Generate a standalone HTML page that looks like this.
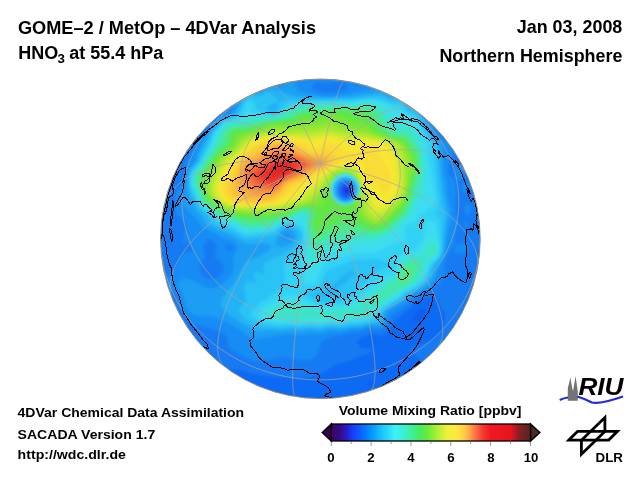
<!DOCTYPE html>
<html><head><meta charset="utf-8"><style>
html,body{margin:0;padding:0;background:#fff;width:640px;height:480px;overflow:hidden}
svg{display:block}
text{font-family:"Liberation Sans",Arial,sans-serif;font-weight:bold;fill:#000}
</style></head><body>
<svg width="640" height="480" viewBox="0 0 640 480">
<defs>
<linearGradient id="cb" x1="0" x2="1" y1="0" y2="0">
<stop offset="0" stop-color="rgb(60,0,100)"/>
<stop offset="0.04" stop-color="rgb(55,10,130)"/>
<stop offset="0.08" stop-color="rgb(40,30,200)"/>
<stop offset="0.1" stop-color="rgb(25,55,245)"/>
<stop offset="0.15" stop-color="rgb(10,100,255)"/>
<stop offset="0.2" stop-color="rgb(0,150,255)"/>
<stop offset="0.26" stop-color="rgb(30,200,255)"/>
<stop offset="0.32" stop-color="rgb(60,240,250)"/>
<stop offset="0.38" stop-color="rgb(60,240,190)"/>
<stop offset="0.44" stop-color="rgb(70,235,100)"/>
<stop offset="0.48" stop-color="rgb(100,235,60)"/>
<stop offset="0.53" stop-color="rgb(170,240,55)"/>
<stop offset="0.58" stop-color="rgb(240,240,60)"/>
<stop offset="0.64" stop-color="rgb(255,230,60)"/>
<stop offset="0.68" stop-color="rgb(255,190,70)"/>
<stop offset="0.72" stop-color="rgb(250,120,70)"/>
<stop offset="0.76" stop-color="rgb(245,60,50)"/>
<stop offset="0.8" stop-color="rgb(240,25,35)"/>
<stop offset="0.9" stop-color="rgb(230,20,30)"/>
<stop offset="0.94" stop-color="rgb(140,30,35)"/>
<stop offset="1.0" stop-color="rgb(85,35,35)"/>
</linearGradient>
<clipPath id="gc"><circle cx="320.4" cy="238.8" r="159.8"/></clipPath>
<filter id="bl" x="-10%" y="-10%" width="120%" height="120%"><feGaussianBlur stdDeviation="1.6"/></filter>
<filter id="bl2" x="-20%" y="-20%" width="140%" height="140%"><feGaussianBlur stdDeviation="0.9"/></filter>
</defs>
<!-- titles -->
<text x="18" y="33.7" font-size="17.6" textLength="298" lengthAdjust="spacingAndGlyphs">GOME–2 / MetOp – 4DVar Analysis</text>
<text x="18.2" y="58.6" font-size="17.6" textLength="40" lengthAdjust="spacingAndGlyphs">HNO</text>
<text x="57.6" y="63" font-size="12" textLength="7.4" lengthAdjust="spacingAndGlyphs">3</text>
<text x="69.2" y="58.6" font-size="17.6" textLength="94" lengthAdjust="spacingAndGlyphs">at 55.4 hPa</text>
<text x="516.8" y="32.9" font-size="17.8" textLength="105.5" lengthAdjust="spacingAndGlyphs">Jan 03, 2008</text>
<text x="439.4" y="61.8" font-size="17.8" textLength="183" lengthAdjust="spacingAndGlyphs">Northern Hemisphere</text>
<text x="17.6" y="416.8" font-size="12.8" textLength="226.5" lengthAdjust="spacingAndGlyphs">4DVar Chemical Data Assimilation</text>
<text x="17.6" y="439.2" font-size="12.8" textLength="137.6" lengthAdjust="spacingAndGlyphs">SACADA Version 1.7</text>
<text x="17.6" y="459.4" font-size="12.8" textLength="108.3" lengthAdjust="spacingAndGlyphs">http://wdc.dlr.de</text>
<text x="338.7" y="415.2" font-size="12.8" textLength="182.7" lengthAdjust="spacingAndGlyphs">Volume Mixing Ratio [ppbv]</text>
<!-- globe -->
<g clip-path="url(#gc)">
<circle cx="320.4" cy="238.8" r="159.8" fill="#1482f5"/>
<g filter="url(#bl)"><path fill-rule="evenodd" fill="rgb(11,93,243)" d="M158,76 483,76 483,401 158,401 158,76Z"/><path fill-rule="evenodd" fill="rgb(13,107,244)" d="M158,76 483,76 483,401 158,401 158,76ZM368,382 366,384 368,387 370,388 373,386 374,384 372,382 368,382ZM421,308 416,312 414,315 413,320 416,322 421,322 424,318 425,313 425,309 423,308 421,308Z"/><path fill-rule="evenodd" fill="rgb(20,122,243)" d="M158,76 483,76 483,115 477,126 475,133 477,137 483,142 483,388 474,388 464,387 454,385 445,381 432,372 410,351 410,349 412,347 426,343 434,339 439,334 443,328 445,320 445,314 441,308 437,298 433,296 423,298 417,301 407,311 396,320 387,333 384,335 379,336 369,334 358,340 357,343 359,347 363,349 370,348 371,350 370,353 363,355 352,360 337,364 319,375 312,377 303,378 274,377 253,374 238,369 231,369 227,370 223,373 201,401 158,401 158,76ZM167,297 164,300 163,305 164,308 167,309 169,308 170,304 169,298 167,297ZM199,127 196,129 196,130 199,129 199,127ZM206,117 203,120 202,124 208,123 211,121 212,119 210,117 206,117Z"/><path fill-rule="evenodd" fill="rgb(23,141,245)" d="M158,76 453,76 453,92 450,104 444,112 432,119 441,137 446,141 454,142 455,144 455,153 450,159 448,171 449,174 455,180 456,187 455,213 458,220 458,225 455,235 454,240 455,243 449,253 444,265 444,269 445,274 442,280 434,288 416,297 406,306 392,315 387,325 383,329 378,330 370,329 359,332 350,333 341,335 329,337 321,342 318,352 316,356 312,359 308,360 302,360 284,357 261,361 251,360 237,353 231,349 229,346 227,337 224,333 214,329 197,325 190,321 186,318 183,313 176,295 173,292 165,288 163,285 165,280 176,268 183,254 185,253 190,253 192,251 193,248 191,244 188,243 185,243 183,241 186,226 183,220 175,212 175,195 177,190 181,186 183,183 185,172 185,163 190,156 195,143 203,136 208,128 215,123 216,116 215,113 212,110 207,107 202,106 178,108 158,111 158,76ZM227,95 224,97 222,102 222,108 225,113 230,110 238,98 237,96 235,95 231,94 227,95ZM315,83 312,86 313,89 317,91 325,93 335,93 339,92 346,90 349,87 345,83 342,82 326,83 318,82 315,83ZM359,81 355,83 354,85 357,86 361,84 361,82 359,81ZM208,239 206,241 203,246 203,249 205,256 200,265 199,270 201,274 204,277 208,279 213,279 217,278 221,275 223,272 224,268 222,264 215,256 215,253 217,248 217,245 212,240 208,239ZM228,245 226,246 225,248 227,250 230,251 232,250 233,247 231,245 228,245ZM465,153 468,154 469,156 465,162 464,167 465,173 464,175 462,180 460,181 455,178 454,164 455,163 460,163 464,161 465,153ZM185,154 185,153 186,154 185,155 185,154ZM475,180 478,180 479,183 478,187 476,190 475,191 469,192 465,193 463,192 462,187 463,183 470,183 475,180ZM465,204 466,203 471,207 470,213 467,216 465,213 465,204ZM465,223 467,222 468,225 467,232 466,234 465,232 465,223ZM463,243 466,243 468,245 469,248 468,251 464,253 455,253 455,250 456,245 463,243Z"/><path fill-rule="evenodd" fill="rgb(30,158,245)" d="M168,76 168,76 235,76 232,78 222,79 209,83 204,84 195,83 168,76ZM287,81 290,80 293,81 295,83 297,89 302,92 324,96 335,96 346,94 378,88 383,89 389,95 392,96 402,91 406,91 408,92 410,95 409,106 412,107 421,108 424,109 426,112 427,120 443,145 444,173 447,183 447,194 451,209 451,217 444,258 439,267 435,279 431,285 425,289 412,296 405,303 396,307 387,313 385,323 381,327 378,327 370,326 360,329 350,329 341,332 330,331 319,334 310,334 300,335 289,334 256,339 248,336 231,324 218,318 211,316 199,316 193,314 189,312 186,307 183,294 178,285 179,282 183,279 187,279 191,280 201,285 207,288 214,288 220,286 227,280 233,272 234,267 233,257 238,248 237,245 232,241 223,238 215,233 202,228 197,219 189,211 183,206 182,202 185,194 186,177 189,168 194,162 199,147 209,130 216,124 221,116 229,114 234,110 241,99 243,90 244,87 246,86 249,86 257,91 260,91 269,85 282,86 287,81ZM286,233 284,234 284,236 284,238 286,239 288,238 290,236 289,234 286,233Z"/><path fill-rule="evenodd" fill="rgb(36,178,245)" d="M266,90 272,89 296,96 325,98 350,97 377,93 382,93 391,98 403,97 406,99 407,106 409,108 418,110 421,113 431,132 439,144 440,149 441,171 443,184 444,195 448,214 445,233 444,249 443,256 441,259 436,266 432,278 427,284 422,288 409,295 402,301 395,304 385,311 383,314 383,321 380,324 370,324 360,327 350,327 341,329 330,328 319,331 310,329 300,331 290,330 280,331 270,330 258,331 253,330 241,323 227,313 222,307 221,303 222,299 236,280 245,263 248,261 258,257 263,254 269,250 272,246 272,245 265,243 249,244 243,242 232,236 212,227 206,224 203,217 197,211 190,198 188,188 188,176 190,169 197,162 201,150 210,132 217,125 221,120 235,113 244,97 247,94 251,93 260,93 266,90ZM285,229 281,232 277,239 275,244 274,245 276,246 281,247 287,246 292,243 295,239 296,235 294,232 290,229 285,229Z"/><path fill-rule="evenodd" fill="rgb(43,195,245)" d="M265,93 268,93 272,94 275,97 278,101 277,102 276,103 270,104 267,107 267,109 268,111 274,113 276,112 278,110 279,102 290,99 349,99 375,96 381,96 391,100 402,100 404,102 406,107 408,110 416,112 419,115 428,133 436,144 438,152 438,167 442,203 445,213 443,231 443,248 441,255 439,259 434,264 429,277 425,283 420,287 407,294 401,299 394,303 384,310 382,313 380,320 379,322 341,327 330,326 320,328 310,327 301,328 290,327 278,328 256,326 245,319 240,313 239,310 240,307 245,303 246,300 244,289 245,283 249,281 255,283 256,281 254,276 255,273 258,272 263,274 265,273 263,268 265,263 287,252 295,246 299,240 300,236 300,233 297,230 294,228 289,226 286,226 282,228 276,234 272,236 247,239 241,237 231,231 215,225 212,223 207,215 200,209 198,206 190,190 189,178 191,171 198,162 213,131 223,120 234,116 237,114 243,102 247,98 251,96 260,97 265,93ZM350,271 344,274 325,293 316,293 315,293 315,295 320,296 331,296 334,295 339,287 345,283 355,273 354,271 350,271Z"/><path fill-rule="evenodd" fill="rgb(50,210,245)" d="M362,99 378,99 391,103 401,104 407,111 415,115 417,117 426,134 432,144 435,153 434,160 438,195 439,206 435,213 439,218 440,222 441,248 440,256 432,264 427,276 422,283 416,287 405,293 400,298 384,308 380,312 377,318 375,319 360,323 350,323 340,325 330,324 320,326 310,325 300,326 290,325 279,326 258,322 252,317 251,314 251,312 253,309 261,302 281,289 284,286 285,278 284,268 284,265 298,250 301,246 303,239 302,232 298,227 291,224 286,224 283,225 275,231 271,233 247,236 242,234 232,228 218,223 211,215 201,208 196,199 190,185 190,178 192,172 200,162 210,143 214,132 224,121 235,118 239,115 242,111 244,103 247,100 251,100 254,102 256,109 258,111 274,114 278,113 286,105 294,102 314,101 353,101 362,99ZM353,260 328,270 325,273 321,284 317,287 306,291 305,293 306,296 310,299 314,301 324,303 335,303 344,301 357,291 374,274 384,268 389,266 391,263 389,261 385,263 381,260 376,259 353,260Z"/><path fill-rule="evenodd" fill="rgb(60,220,240)" d="M361,101 372,100 383,102 398,109 412,117 417,122 422,134 427,144 427,153 431,174 432,182 435,193 435,203 433,205 427,210 425,213 420,214 416,222 409,224 406,225 405,229 405,243 398,242 393,244 375,253 356,253 338,259 329,260 325,263 321,269 316,282 313,283 306,283 303,281 305,273 302,266 301,261 305,243 305,234 303,228 300,224 285,222 270,231 246,233 242,232 234,226 220,221 214,214 204,208 200,204 192,185 192,179 193,173 201,163 211,145 215,133 225,122 237,119 243,116 247,110 247,104 249,105 249,111 252,114 273,116 279,114 288,107 298,104 315,102 354,102 361,101ZM426,221 431,221 435,223 440,246 440,251 439,255 431,263 425,276 419,283 414,287 404,292 398,297 383,306 373,317 360,321 350,321 340,323 329,322 319,324 310,323 300,324 290,323 278,323 264,320 259,317 259,315 259,312 263,307 279,298 286,296 295,296 310,303 324,306 345,305 354,301 365,293 378,280 393,273 395,270 398,259 401,255 408,252 415,250 419,247 423,240 425,233 425,225 426,221Z"/><path fill-rule="evenodd" fill="rgb(60,226,219)" d="M359,103 371,102 379,104 384,106 390,112 394,122 396,123 398,123 402,120 404,119 410,121 414,125 423,145 426,168 425,194 417,203 411,217 404,222 397,231 389,238 378,243 362,244 337,253 327,252 324,254 318,265 315,267 313,267 310,265 307,259 307,236 304,224 305,216 304,215 295,220 282,222 270,229 247,231 242,229 235,224 221,219 215,213 204,206 201,202 193,185 193,181 194,175 195,172 202,163 213,144 217,134 226,123 249,118 276,116 289,109 301,105 315,104 354,104 359,103ZM430,237 433,236 436,240 438,247 438,253 436,256 429,262 424,273 420,279 414,285 403,291 397,296 381,306 369,316 361,319 350,319 340,321 330,320 320,322 310,321 300,322 290,321 277,321 269,318 265,315 265,312 269,308 281,302 287,301 295,301 311,306 325,309 346,307 356,304 365,298 378,285 395,275 400,262 403,258 408,256 417,254 420,252 430,237Z"/><path fill-rule="evenodd" fill="rgb(61,227,200)" d="M363,104 373,105 381,108 386,115 391,125 395,129 398,129 405,127 409,128 413,133 420,146 422,150 423,169 423,178 419,194 414,203 409,215 394,230 388,234 377,239 358,239 337,246 327,245 324,247 317,256 314,257 312,255 310,248 308,234 306,225 307,216 306,213 302,213 293,218 282,221 269,228 248,229 243,227 235,222 222,218 216,212 205,205 201,201 194,184 195,175 216,144 220,133 227,125 254,119 277,117 290,111 303,106 329,105 354,105 363,104ZM433,242 435,243 436,245 437,253 435,255 428,258 426,260 421,273 416,281 411,285 401,290 395,295 380,304 366,315 360,316 350,316 340,318 328,316 320,319 311,318 300,320 291,318 279,318 274,316 272,314 272,311 275,309 282,306 288,305 296,305 327,313 334,311 349,310 357,308 365,303 380,288 396,277 398,273 402,264 404,261 409,258 423,256 429,245 433,242Z"/><path fill-rule="evenodd" fill="rgb(66,231,174)" d="M360,106 369,106 378,110 382,115 389,127 393,131 396,132 405,131 409,133 418,147 420,152 422,166 421,175 418,184 416,194 410,210 406,216 388,231 381,235 376,236 355,235 338,240 327,240 324,242 318,248 315,249 312,245 308,227 309,214 306,211 302,211 293,217 280,220 268,226 247,227 243,225 236,221 223,217 216,211 206,205 202,200 195,183 196,175 218,144 222,133 228,126 233,125 245,124 256,121 278,118 304,108 330,106 360,106ZM431,248 433,248 435,250 435,253 433,254 431,254 430,253 430,250 431,248ZM412,260 419,261 421,264 419,271 414,280 408,285 400,288 395,293 374,303 374,301 381,291 392,283 397,279 405,263 412,260ZM284,312 286,311 288,312 285,313 284,312ZM294,312 302,312 305,313 305,314 300,315 295,313 294,312Z"/><path fill-rule="evenodd" fill="rgb(73,234,146)" d="M324,108 364,107 371,109 378,114 386,127 388,130 395,134 403,134 407,135 410,138 417,149 420,157 420,171 419,176 416,184 413,196 406,213 390,228 382,232 376,234 370,234 353,231 337,235 328,236 316,243 314,242 313,239 310,227 310,214 309,212 307,210 301,211 291,216 279,219 267,225 247,224 237,220 224,216 208,205 204,201 201,196 197,184 197,176 214,152 222,143 225,133 228,129 233,127 246,126 260,122 280,119 304,109 324,108ZM412,263 415,263 417,266 416,270 413,277 410,281 406,284 399,285 398,284 398,282 404,269 407,265 412,263ZM386,292 387,292 387,292 387,292 386,292ZM385,293 386,292 386,293 385,293Z"/><path fill-rule="evenodd" fill="rgb(80,234,120)" d="M330,109 363,109 370,111 376,116 382,127 385,130 394,135 406,137 409,140 417,151 419,161 419,173 414,183 412,193 409,204 404,213 388,227 381,231 374,232 345,226 336,230 326,233 320,237 317,238 314,236 312,232 311,224 312,214 311,211 308,209 301,210 289,215 278,218 266,223 247,222 238,219 225,215 209,204 205,200 202,194 199,184 199,176 215,153 225,143 227,134 230,130 234,128 247,127 265,122 282,119 294,116 304,111 316,111 330,109ZM408,270 411,270 411,274 408,278 405,280 404,279 405,274 408,270Z"/><path fill-rule="evenodd" fill="rgb(86,231,93)" d="M325,111 335,110 357,111 367,112 374,118 381,129 392,135 405,139 415,152 417,162 417,172 413,182 411,193 408,202 402,212 387,226 380,229 373,230 355,225 348,221 345,221 317,234 314,232 312,225 314,213 312,210 309,208 301,208 287,215 276,217 266,220 247,219 225,214 211,204 206,199 203,194 201,186 200,180 201,175 216,154 227,144 230,134 232,131 236,129 247,129 273,122 291,119 305,112 316,113 325,111Z"/><path fill-rule="evenodd" fill="rgb(97,230,70)" d="M334,112 349,113 356,113 365,115 370,120 377,130 391,136 404,140 407,143 414,153 416,163 416,172 412,181 409,193 407,200 401,211 386,224 379,227 372,228 356,221 352,216 348,216 337,218 321,229 318,230 316,229 314,224 317,216 316,212 314,209 311,207 301,207 286,214 267,217 247,217 226,213 211,203 206,197 204,193 203,189 202,179 204,174 218,155 229,145 231,142 232,135 234,132 249,130 274,123 292,121 305,114 316,116 325,113 334,112Z"/><path fill-rule="evenodd" fill="rgb(116,230,57)" d="M330,115 335,115 345,117 350,119 355,123 360,121 364,122 376,132 404,142 412,154 414,163 414,172 410,180 407,197 404,203 400,209 385,223 379,226 373,226 360,218 351,201 347,187 345,183 346,181 346,179 344,178 342,179 342,184 339,187 325,193 324,196 325,203 323,206 319,207 310,206 301,206 284,213 261,215 247,215 231,213 225,211 214,204 207,196 205,190 205,178 206,174 220,155 232,145 236,135 251,132 274,124 292,124 306,118 315,120 325,116 330,115ZM319,221 320,221 321,222 320,224 318,224 318,223 319,221Z"/><path fill-rule="evenodd" fill="rgb(138,230,52)" d="M328,120 331,120 335,123 350,127 365,128 375,134 399,141 403,144 405,147 410,157 412,165 411,171 409,178 407,193 403,201 399,207 384,221 379,224 374,224 368,221 362,216 353,194 353,183 352,179 350,175 345,173 337,175 336,177 335,183 323,191 319,200 317,202 299,206 284,212 250,213 231,212 225,209 215,203 208,195 206,189 207,177 208,174 221,157 234,147 240,137 274,126 289,127 305,123 315,125 328,120Z"/><path fill-rule="evenodd" fill="rgb(159,231,50)" d="M326,125 330,125 350,131 366,132 374,135 384,138 396,142 400,144 403,147 407,158 409,164 407,173 407,183 405,193 402,200 395,208 382,220 378,222 374,221 369,219 365,215 363,212 361,202 357,192 356,182 355,177 352,174 346,171 335,173 330,182 322,189 317,197 314,200 308,203 299,205 283,210 260,212 241,211 232,210 226,208 217,203 210,195 208,189 210,178 211,174 222,158 234,150 241,140 244,138 251,135 274,128 278,128 287,130 303,128 315,128 326,125Z"/><path fill-rule="evenodd" fill="rgb(180,233,50)" d="M323,129 329,129 351,134 366,134 387,140 395,143 400,147 405,162 404,173 405,183 404,191 402,196 398,201 390,210 382,217 378,219 375,219 371,217 367,213 366,210 364,201 360,189 356,175 353,172 347,170 339,170 333,173 315,195 309,200 305,202 282,209 260,210 233,209 227,207 221,204 216,200 212,195 210,190 212,180 219,166 224,159 235,152 243,142 247,139 253,136 273,131 278,131 286,133 300,131 314,132 323,129Z"/><path fill-rule="evenodd" fill="rgb(203,234,50)" d="M323,132 329,132 350,136 365,137 382,140 391,143 396,147 402,162 403,187 401,192 399,197 387,210 378,215 374,215 371,213 369,209 366,196 362,187 357,173 354,170 347,168 338,169 331,172 314,192 305,199 280,207 259,209 234,208 224,204 218,200 215,196 213,191 213,184 215,178 221,167 226,160 236,153 244,144 249,140 255,137 272,133 277,133 286,135 298,134 312,135 323,132Z"/><path fill-rule="evenodd" fill="rgb(230,232,50)" d="M274,135 312,138 328,135 351,139 366,139 386,143 393,148 398,162 400,183 399,192 396,197 385,208 379,211 375,210 372,207 369,194 363,184 359,171 353,168 344,167 336,168 330,171 322,178 316,186 305,193 301,198 295,201 286,203 279,205 263,208 243,207 232,206 224,202 218,196 216,192 216,188 218,178 225,165 229,161 237,155 251,141 256,139 274,135Z"/><path fill-rule="evenodd" fill="rgb(248,230,50)" d="M272,137 294,138 312,141 329,138 352,143 366,141 375,142 384,144 388,148 391,155 395,164 397,183 396,191 394,194 385,203 381,205 377,205 375,203 371,191 365,183 360,169 356,166 347,165 340,166 331,169 319,177 314,184 302,189 295,197 277,204 264,206 245,206 233,204 226,201 220,195 219,187 223,174 228,166 253,142 256,141 272,137Z"/><path fill-rule="evenodd" fill="rgb(249,220,53)" d="M271,139 279,138 295,141 305,143 315,148 325,143 335,143 340,146 344,152 346,153 355,153 360,152 366,146 374,145 378,146 380,148 380,150 378,153 375,154 378,155 384,162 387,166 390,173 390,186 389,189 386,192 382,194 380,191 379,185 369,181 365,173 365,163 364,162 356,163 349,162 341,164 333,167 317,175 311,180 297,187 285,197 275,203 257,205 246,205 235,203 228,200 223,194 222,186 226,176 233,164 244,153 255,143 271,139ZM365,154 365,154 365,154 365,154 365,154ZM386,173 386,174 386,174 386,174 386,173Z"/><path fill-rule="evenodd" fill="rgb(250,208,56)" d="M271,141 281,140 292,142 300,145 308,150 315,153 324,151 328,151 338,157 340,160 335,164 322,171 315,173 307,179 290,187 282,196 275,201 265,203 254,204 244,203 232,199 227,194 226,186 228,180 233,173 236,164 245,155 256,146 271,141Z"/><path fill-rule="evenodd" fill="rgb(250,195,60)" d="M275,142 287,143 296,146 306,152 313,155 327,155 332,158 334,161 325,167 314,172 302,179 287,185 281,194 273,199 265,201 254,202 244,200 235,196 231,191 230,185 232,181 236,174 239,164 246,157 255,153 261,148 275,142Z"/><path fill-rule="evenodd" fill="rgb(250,177,60)" d="M276,144 285,144 305,154 314,157 325,158 328,160 328,162 323,166 313,170 300,178 286,183 279,193 273,196 254,199 247,197 239,193 236,189 235,184 242,164 247,160 257,156 267,148 276,144Z"/><path fill-rule="evenodd" fill="rgb(250,160,60)" d="M274,147 279,146 284,147 304,155 320,160 322,161 322,163 318,166 299,177 285,182 279,190 274,193 258,196 251,194 243,188 240,184 241,176 243,168 247,163 258,158 269,150 274,147Z"/><path fill-rule="evenodd" fill="rgb(247,140,60)" d="M275,150 280,150 297,155 315,161 317,163 316,165 298,176 284,182 278,188 274,191 270,192 259,192 251,189 246,185 244,181 243,174 245,170 248,166 261,160 270,152 275,150Z"/><path fill-rule="evenodd" fill="rgb(245,119,59)" d="M275,153 280,153 297,156 307,160 311,162 311,164 308,167 298,174 283,181 277,187 274,189 270,190 261,189 253,186 250,183 247,179 246,175 248,171 251,168 263,161 275,153Z"/><path fill-rule="evenodd" fill="rgb(243,97,56)" d="M275,156 280,155 293,157 305,161 307,164 306,166 298,172 283,180 274,187 267,187 259,185 255,183 251,178 250,175 251,172 254,169 275,156Z"/><path fill-rule="evenodd" fill="rgb(241,75,51)" d="M277,158 284,157 293,159 301,162 302,163 302,165 295,172 282,179 274,185 268,185 258,181 255,177 255,174 256,172 260,168 277,158Z"/><path fill-rule="evenodd" fill="rgb(238,59,47)" d="M278,160 285,159 292,160 297,163 298,166 292,172 281,178 274,183 268,183 261,179 259,175 261,171 278,160Z"/><path fill-rule="evenodd" fill="rgb(233,49,43)" d="M283,161 289,162 294,164 294,167 289,172 273,181 268,180 264,177 263,174 265,171 278,163 283,161Z"/><path fill-rule="evenodd" fill="rgb(230,40,40)" d="M281,164 285,163 288,164 290,166 290,168 285,173 273,177 269,176 268,174 269,172 281,164Z"/><path fill-rule="evenodd" fill="rgb(212,37,37)" d="M282,168 284,168 284,169 282,170 281,169 282,168Z"/></g>
<g filter="url(#bl2)">
<ellipse cx="345.2" cy="189.3" rx="15" ry="16" fill="rgb(70,225,240)"/>
<ellipse cx="345.4" cy="189.8" rx="12.5" ry="13" fill="rgb(45,175,245)"/>
<ellipse cx="345.6" cy="190" rx="9" ry="10.5" fill="rgb(30,125,245)"/>
<ellipse cx="346" cy="190.5" rx="5.5" ry="7" fill="rgb(25,85,240)"/>
<circle cx="346.7" cy="190.5" r="2.8" fill="rgb(35,45,225)"/>
</g>
<path d="M295.8,396.7 295.7,396.7 295.6,396.6 295.5,396.6 295.4,396.5 295.3,396.4 295.1,396.4 295.1,396.3 295.0,396.1 294.9,396.0 294.8,395.9 294.7,395.7 294.6,395.6 294.5,395.4 294.4,395.2 294.3,395.0 294.2,394.8 294.2,394.6 294.1,394.4 294.0,394.1 293.9,393.9 293.9,393.6 293.8,393.3 293.7,393.0 293.7,392.7 293.6,392.4 293.5,392.1 293.5,391.8 293.4,391.4 293.4,391.1 293.3,390.7 293.3,390.3 293.2,389.9 293.2,389.5 293.1,389.1 293.1,388.7 293.0,388.2 293.0,387.8 293.0,387.3 292.9,386.8 292.9,386.4 292.9,385.9 292.8,385.4 292.8,384.8 292.8,384.3 292.8,383.8 292.7,383.2 292.7,382.6 292.7,382.1 292.7,381.5 292.7,380.9 292.7,380.3 292.7,379.7 292.7,379.0 292.7,378.4 292.7,377.8 292.7,377.1 292.7,376.4 292.7,375.7 292.7,375.0 292.7,374.3 292.7,373.6 292.7,372.9 292.7,372.2 292.7,371.4 292.8,370.7 292.8,369.9 292.8,369.1 292.8,368.4 292.9,367.6 292.9,366.8 292.9,366.0 293.0,365.1 293.0,364.3 293.0,363.5 293.1,362.6 293.1,361.8 293.2,360.9 293.2,360.0 293.3,359.1 293.3,358.2 293.4,357.3 293.4,356.4 293.5,355.5 293.5,354.5 293.6,353.6 293.7,352.6 293.7,351.7 293.8,350.7 293.9,349.7 293.9,348.8 294.0,347.8 294.1,346.8 294.2,345.8 294.2,344.7 294.3,343.7 294.4,342.7 294.5,341.6 294.6,340.6 294.7,339.5 294.8,338.5 294.9,337.4 295.0,336.3 295.1,335.2 295.1,334.1 295.3,333.0 295.4,331.9 295.5,330.8 295.6,329.7 295.7,328.5 295.8,327.4 295.9,326.3 296.0,325.1 296.1,324.0 296.2,322.8 296.4,321.6 296.5,320.4 296.6,319.3 296.7,318.1 296.9,316.9 297.0,315.7 297.1,314.5 297.3,313.3 297.4,312.0 297.5,310.8 297.7,309.6 297.8,308.4 298.0,307.1 298.1,305.9 298.2,304.6 298.4,303.4 298.5,302.1 298.7,300.8 298.8,299.6 299.0,298.3 299.1,297.0 299.3,295.7 299.5,294.4 299.6,293.2 299.8,291.9 299.9,290.6 300.1,289.3 300.3,288.0 300.4,286.6 300.6,285.3 300.8,284.0 301.0,282.7 301.1,281.4 301.3,280.0 301.5,278.7 301.7,277.4 301.8,276.0 302.0,274.7 302.2,273.3 302.4,272.0 302.6,270.6 302.7,269.3 302.9,267.9 303.1,266.6 303.3,265.2 303.5,263.9 303.7,262.5 303.9,261.1 304.1,259.8 304.3,258.4 304.5,257.0 304.7,255.7 304.9,254.3 305.1,252.9 305.3,251.6 305.5,250.2 305.7,248.8 305.9,247.4 306.1,246.1 306.3,244.7 306.5,243.3 306.7,241.9 306.9,240.5 307.2,239.2 307.4,237.8 307.6,236.4 307.8,235.0 308.0,233.7 308.2,232.3 308.5,230.9 308.7,229.5 308.9,228.2 309.1,226.8 309.3,225.4 309.6,224.0 309.8,222.7 310.0,221.3 310.2,219.9 310.5,218.6 310.7,217.2 310.9,215.8 311.1,214.5 311.4,213.1 311.6,211.7 311.8,210.4 312.1,209.0 312.3,207.7 312.5,206.3 312.8,205.0 313.0,203.6 313.2,202.3 313.5,201.0 313.7,199.6 313.9,198.3 314.2,197.0 314.4,195.6 314.6,194.3 314.9,193.0 315.1,191.7 315.3,190.4 315.6,189.0 315.8,187.7 316.1,186.4 316.3,185.1 316.5,183.8 316.8,182.6 317.0,181.3 317.3,180.0 317.5,178.7 317.7,177.4 318.0,176.2 318.2,174.9 318.5,173.7 318.7,172.4 318.9,171.2 319.2,169.9 319.4,168.7 319.7,167.4 319.9,166.2 320.2,165.0 320.4,163.8M369.3,390.9 369.5,390.9 369.7,390.8 369.9,390.7 370.1,390.6 370.3,390.4 370.5,390.3 370.7,390.2 370.9,390.0 371.1,389.8 371.3,389.7 371.4,389.5 371.6,389.3 371.8,389.0 371.9,388.8 372.1,388.6 372.2,388.3 372.4,388.1 372.5,387.8 372.7,387.5 372.8,387.2 372.9,386.9 373.1,386.6 373.2,386.3 373.3,385.9 373.4,385.6 373.5,385.2 373.7,384.9 373.8,384.5 373.9,384.1 374.0,383.7 374.1,383.3 374.1,382.8 374.2,382.4 374.3,381.9 374.4,381.5 374.5,381.0 374.5,380.5 374.6,380.0 374.6,379.5 374.7,379.0 374.8,378.5 374.8,378.0 374.8,377.4 374.9,376.9 374.9,376.3 375.0,375.7 375.0,375.1 375.0,374.5 375.0,373.9 375.0,373.3 375.0,372.7 375.1,372.0 375.1,371.4 375.1,370.7 375.0,370.1 375.0,369.4 375.0,368.7 375.0,368.0 375.0,367.3 375.0,366.6 374.9,365.8 374.9,365.1 374.8,364.3 374.8,363.6 374.8,362.8 374.7,362.0 374.6,361.3 374.6,360.5 374.5,359.7 374.5,358.8 374.4,358.0 374.3,357.2 374.2,356.3 374.1,355.5 374.1,354.6 374.0,353.8 373.9,352.9 373.8,352.0 373.7,351.1 373.5,350.2 373.4,349.3 373.3,348.4 373.2,347.5 373.1,346.5 372.9,345.6 372.8,344.6 372.7,343.7 372.5,342.7 372.4,341.7 372.2,340.7 372.1,339.7 371.9,338.7 371.8,337.7 371.6,336.7 371.4,335.7 371.3,334.7 371.1,333.6 370.9,332.6 370.7,331.5 370.5,330.5 370.3,329.4 370.1,328.3 369.9,327.3 369.7,326.2 369.5,325.1 369.3,324.0 369.1,322.9 368.9,321.8 368.7,320.6 368.4,319.5 368.2,318.4 368.0,317.3 367.7,316.1 367.5,315.0 367.2,313.8 367.0,312.6 366.7,311.5 366.5,310.3 366.2,309.1 366.0,308.0 365.7,306.8 365.4,305.6 365.2,304.4 364.9,303.2 364.6,302.0 364.3,300.8 364.0,299.5 363.8,298.3 363.5,297.1 363.2,295.9 362.9,294.6 362.6,293.4 362.3,292.1 362.0,290.9 361.6,289.6 361.3,288.4 361.0,287.1 360.7,285.9 360.4,284.6 360.0,283.3 359.7,282.1 359.4,280.8 359.0,279.5 358.7,278.2 358.4,276.9 358.0,275.6 357.7,274.4 357.3,273.1 357.0,271.8 356.6,270.5 356.3,269.2 355.9,267.9 355.5,266.6 355.2,265.2 354.8,263.9 354.4,262.6 354.0,261.3 353.7,260.0 353.3,258.7 352.9,257.4 352.5,256.0 352.1,254.7 351.7,253.4 351.4,252.1 351.0,250.7 350.6,249.4 350.2,248.1 349.8,246.8 349.4,245.4 349.0,244.1 348.5,242.8 348.1,241.5 347.7,240.1 347.3,238.8 346.9,237.5 346.5,236.1 346.1,234.8 345.6,233.5 345.2,232.1 344.8,230.8 344.4,229.5 343.9,228.2 343.5,226.8 343.1,225.5 342.6,224.2 342.2,222.9 341.8,221.5 341.3,220.2 340.9,218.9 340.4,217.6 340.0,216.3 339.5,215.0 339.1,213.6 338.6,212.3 338.2,211.0 337.7,209.7 337.3,208.4 336.8,207.1 336.4,205.8 335.9,204.5 335.5,203.2 335.0,201.9 334.5,200.7 334.1,199.4 333.6,198.1 333.2,196.8 332.7,195.5 332.2,194.3 331.8,193.0 331.3,191.7 330.8,190.5 330.4,189.2 329.9,187.9 329.4,186.7 328.9,185.4 328.5,184.2 328.0,183.0 327.5,181.7 327.1,180.5 326.6,179.3 326.1,178.0 325.6,176.8 325.2,175.6 324.7,174.4 324.2,173.2 323.7,172.0 323.3,170.8 322.8,169.6 322.3,168.5 321.8,167.3 321.4,166.1 320.9,164.9 320.4,163.8M436.5,348.6 436.8,348.2 437.1,347.9 437.5,347.5 437.8,347.1 438.1,346.7 438.4,346.2 438.6,345.8 438.9,345.4 439.2,344.9 439.4,344.5 439.7,344.0 439.9,343.6 440.1,343.1 440.4,342.6 440.6,342.1 440.8,341.6 441.0,341.1 441.1,340.6 441.3,340.1 441.5,339.6 441.6,339.1 441.8,338.5 441.9,338.0 442.0,337.4 442.1,336.8 442.3,336.3 442.3,335.7 442.4,335.1 442.5,334.5 442.6,333.9 442.6,333.3 442.7,332.7 442.7,332.1 442.8,331.4 442.8,330.8 442.8,330.1 442.8,329.5 442.8,328.8 442.8,328.2 442.8,327.5 442.7,326.8 442.7,326.1 442.6,325.4 442.6,324.7 442.5,324.0 442.4,323.3 442.3,322.6 442.3,321.9 442.1,321.2 442.0,320.4 441.9,319.7 441.8,318.9 441.6,318.2 441.5,317.4 441.3,316.6 441.1,315.9 441.0,315.1 440.8,314.3 440.6,313.5 440.4,312.7 440.1,311.9 439.9,311.1 439.7,310.3 439.4,309.5 439.2,308.7 438.9,307.8 438.6,307.0 438.4,306.1 438.1,305.3 437.8,304.5 437.5,303.6 437.1,302.7 436.8,301.9 436.5,301.0 436.1,300.1 435.8,299.2 435.4,298.4 435.1,297.5 434.7,296.6 434.3,295.7 433.9,294.8 433.5,293.9 433.1,293.0 432.7,292.1 432.2,291.1 431.8,290.2 431.3,289.3 430.9,288.4 430.4,287.4 430.0,286.5 429.5,285.5 429.0,284.6 428.5,283.7 428.0,282.7 427.5,281.8 426.9,280.8 426.4,279.8 425.9,278.9 425.3,277.9 424.8,276.9 424.2,276.0 423.6,275.0 423.1,274.0 422.5,273.0 421.9,272.0 421.3,271.1 420.7,270.1 420.1,269.1 419.4,268.1 418.8,267.1 418.2,266.1 417.5,265.1 416.9,264.1 416.2,263.1 415.5,262.1 414.9,261.1 414.2,260.1 413.5,259.0 412.8,258.0 412.1,257.0 411.4,256.0 410.7,255.0 409.9,254.0 409.2,252.9 408.5,251.9 407.7,250.9 407.0,249.9 406.2,248.9 405.4,247.8 404.7,246.8 403.9,245.8 403.1,244.8 402.3,243.7 401.5,242.7 400.7,241.7 399.9,240.7 399.1,239.6 398.3,238.6 397.4,237.6 396.6,236.5 395.8,235.5 394.9,234.5 394.1,233.5 393.2,232.4 392.4,231.4 391.5,230.4 390.6,229.4 389.7,228.3 388.9,227.3 388.0,226.3 387.1,225.3 386.2,224.3 385.3,223.2 384.4,222.2 383.4,221.2 382.5,220.2 381.6,219.2 380.7,218.2 379.7,217.2 378.8,216.1 377.9,215.1 376.9,214.1 376.0,213.1 375.0,212.1 374.1,211.1 373.1,210.1 372.1,209.1 371.2,208.1 370.2,207.2 369.2,206.2 368.2,205.2 367.2,204.2 366.3,203.2 365.3,202.2 364.3,201.3 363.3,200.3 362.3,199.3 361.3,198.4 360.3,197.4 359.2,196.4 358.2,195.5 357.2,194.5 356.2,193.6 355.2,192.6 354.1,191.7 353.1,190.7 352.1,189.8 351.0,188.9 350.0,187.9 349.0,187.0 347.9,186.1 346.9,185.2 345.9,184.3 344.8,183.4 343.8,182.5 342.7,181.6 341.7,180.7 340.6,179.8 339.5,178.9 338.5,178.0 337.4,177.1 336.4,176.3 335.3,175.4 334.3,174.5 333.2,173.7 332.1,172.8 331.1,172.0 330.0,171.1 328.9,170.3 327.9,169.5 326.8,168.6 325.7,167.8 324.7,167.0 323.6,166.2 322.5,165.4 321.5,164.6 320.4,163.8M477.2,269.7 477.3,269.1 477.4,268.5 477.5,267.8 477.6,267.2 477.6,266.5 477.7,265.9 477.7,265.3 477.7,264.6 477.8,264.0 477.8,263.3 477.8,262.6 477.7,262.0 477.7,261.3 477.7,260.7 477.6,260.0 477.6,259.3 477.5,258.7 477.4,258.0 477.3,257.3 477.2,256.7 477.0,256.0 476.9,255.3 476.8,254.7 476.6,254.0 476.4,253.3 476.2,252.6 476.0,251.9 475.8,251.3 475.6,250.6 475.4,249.9 475.1,249.2 474.9,248.5 474.6,247.9 474.3,247.2 474.0,246.5 473.7,245.8 473.4,245.1 473.1,244.4 472.8,243.7 472.4,243.0 472.0,242.4 471.7,241.7 471.3,241.0 470.9,240.3 470.5,239.6 470.1,238.9 469.6,238.2 469.2,237.5 468.7,236.9 468.3,236.2 467.8,235.5 467.3,234.8 466.8,234.1 466.3,233.4 465.8,232.7 465.3,232.0 464.7,231.4 464.2,230.7 463.6,230.0 463.0,229.3 462.4,228.6 461.8,227.9 461.2,227.3 460.6,226.6 460.0,225.9 459.4,225.2 458.7,224.5 458.0,223.9 457.4,223.2 456.7,222.5 456.0,221.8 455.3,221.2 454.6,220.5 453.9,219.8 453.1,219.2 452.4,218.5 451.6,217.8 450.9,217.2 450.1,216.5 449.3,215.8 448.5,215.2 447.7,214.5 446.9,213.9 446.1,213.2 445.3,212.6 444.4,211.9 443.6,211.3 442.7,210.6 441.8,210.0 441.0,209.3 440.1,208.7 439.2,208.1 438.3,207.4 437.4,206.8 436.4,206.2 435.5,205.6 434.6,204.9 433.6,204.3 432.6,203.7 431.7,203.1 430.7,202.5 429.7,201.9 428.7,201.2 427.7,200.6 426.7,200.0 425.7,199.4 424.7,198.8 423.6,198.3 422.6,197.7 421.6,197.1 420.5,196.5 419.4,195.9 418.4,195.3 417.3,194.8 416.2,194.2 415.1,193.6 414.0,193.1 412.9,192.5 411.8,192.0 410.7,191.4 409.5,190.9 408.4,190.3 407.3,189.8 406.1,189.2 405.0,188.7 403.8,188.2 402.6,187.6 401.5,187.1 400.3,186.6 399.1,186.1 397.9,185.6 396.7,185.1 395.5,184.6 394.3,184.1 393.1,183.6 391.8,183.1 390.6,182.6 389.4,182.1 388.2,181.6 386.9,181.2 385.7,180.7 384.4,180.2 383.2,179.8 381.9,179.3 380.6,178.9 379.4,178.4 378.1,178.0 376.8,177.5 375.5,177.1 374.2,176.7 372.9,176.3 371.6,175.8 370.3,175.4 369.0,175.0 367.7,174.6 366.4,174.2 365.1,173.8 363.8,173.4 362.5,173.1 361.1,172.7 359.8,172.3 358.5,171.9 357.1,171.6 355.8,171.2 354.5,170.9 353.1,170.5 351.8,170.2 350.4,169.8 349.1,169.5 347.7,169.2 346.4,168.9 345.0,168.5 343.7,168.2 342.3,167.9 340.9,167.6 339.6,167.3 338.2,167.0 336.8,166.8 335.5,166.5 334.1,166.2 332.7,165.9 331.4,165.7 330.0,165.4 328.6,165.2 327.3,164.9 325.9,164.7 324.5,164.4 323.1,164.2 321.8,164.0 320.4,163.8M468.0,177.7 467.8,177.1 467.5,176.6 467.3,176.0 467.0,175.4 466.7,174.9 466.4,174.4 466.1,173.8 465.8,173.3 465.4,172.8 465.1,172.2 464.7,171.7 464.4,171.2 464.0,170.7 463.6,170.2 463.2,169.7 462.8,169.2 462.4,168.7 461.9,168.3 461.5,167.8 461.1,167.3 460.6,166.9 460.1,166.4 459.6,166.0 459.1,165.5 458.6,165.1 458.1,164.6 457.6,164.2 457.0,163.8 456.5,163.4 455.9,162.9 455.4,162.5 454.8,162.1 454.2,161.7 453.6,161.4 453.0,161.0 452.4,160.6 451.7,160.2 451.1,159.9 450.4,159.5 449.8,159.1 449.1,158.8 448.4,158.5 447.7,158.1 447.0,157.8 446.3,157.5 445.6,157.2 444.9,156.8 444.2,156.5 443.4,156.2 442.6,155.9 441.9,155.7 441.1,155.4 440.3,155.1 439.5,154.8 438.7,154.6 437.9,154.3 437.1,154.1 436.3,153.8 435.4,153.6 434.6,153.4 433.7,153.2 432.9,152.9 432.0,152.7 431.1,152.5 430.2,152.3 429.3,152.2 428.4,152.0 427.5,151.8 426.6,151.6 425.7,151.5 424.7,151.3 423.8,151.2 422.8,151.0 421.8,150.9 420.9,150.8 419.9,150.6 418.9,150.5 417.9,150.4 416.9,150.3 415.9,150.2 414.9,150.1 413.9,150.0 412.8,150.0 411.8,149.9 410.8,149.8 409.7,149.8 408.7,149.7 407.6,149.7 406.5,149.7 405.5,149.6 404.4,149.6 403.3,149.6 402.2,149.6 401.1,149.6 400.0,149.6 398.9,149.6 397.7,149.6 396.6,149.7 395.5,149.7 394.3,149.7 393.2,149.8 392.1,149.8 390.9,149.9 389.7,150.0 388.6,150.0 387.4,150.1 386.2,150.2 385.0,150.3 383.9,150.4 382.7,150.5 381.5,150.6 380.3,150.8 379.1,150.9 377.9,151.0 376.7,151.2 375.4,151.3 374.2,151.5 373.0,151.6 371.8,151.8 370.5,152.0 369.3,152.2 368.0,152.3 366.8,152.5 365.6,152.7 364.3,152.9 363.0,153.2 361.8,153.4 360.5,153.6 359.3,153.8 358.0,154.1 356.7,154.3 355.5,154.6 354.2,154.8 352.9,155.1 351.6,155.4 350.3,155.7 349.1,155.9 347.8,156.2 346.5,156.5 345.2,156.8 343.9,157.2 342.6,157.5 341.3,157.8 340.0,158.1 338.7,158.5 337.4,158.8 336.1,159.1 334.8,159.5 333.5,159.9 332.2,160.2 330.9,160.6 329.6,161.0 328.3,161.4 327.0,161.7 325.6,162.1 324.3,162.5 323.0,162.9 321.7,163.4 320.4,163.8M415.3,110.2 415.0,110.0 414.6,109.8 414.2,109.5 413.9,109.3 413.5,109.1 413.1,108.9 412.7,108.8 412.3,108.6 411.9,108.4 411.5,108.3 411.1,108.1 410.7,108.0 410.2,107.9 409.8,107.8 409.4,107.7 408.9,107.6 408.4,107.5 408.0,107.4 407.5,107.4 407.0,107.3 406.5,107.3 406.1,107.3 405.6,107.2 405.1,107.2 404.5,107.2 404.0,107.2 403.5,107.3 403.0,107.3 402.4,107.3 401.9,107.4 401.3,107.4 400.8,107.5 400.2,107.6 399.7,107.7 399.1,107.8 398.5,107.9 397.9,108.0 397.3,108.1 396.7,108.3 396.1,108.4 395.5,108.6 394.9,108.8 394.3,108.9 393.7,109.1 393.0,109.3 392.4,109.5 391.8,109.8 391.1,110.0 390.5,110.2 389.8,110.5 389.1,110.7 388.5,111.0 387.8,111.3 387.1,111.6 386.4,111.9 385.7,112.2 385.0,112.5 384.3,112.8 383.6,113.1 382.9,113.5 382.2,113.8 381.5,114.2 380.8,114.6 380.0,115.0 379.3,115.4 378.6,115.8 377.8,116.2 377.1,116.6 376.3,117.0 375.6,117.5 374.8,117.9 374.1,118.4 373.3,118.8 372.5,119.3 371.8,119.8 371.0,120.3 370.2,120.8 369.4,121.3 368.6,121.8 367.8,122.3 367.0,122.9 366.2,123.4 365.4,124.0 364.6,124.6 363.8,125.1 363.0,125.7 362.2,126.3 361.4,126.9 360.5,127.5 359.7,128.1 358.9,128.8 358.0,129.4 357.2,130.0 356.4,130.7 355.5,131.3 354.7,132.0 353.8,132.7 353.0,133.4 352.1,134.1 351.3,134.7 350.4,135.5 349.6,136.2 348.7,136.9 347.9,137.6 347.0,138.4 346.1,139.1 345.2,139.9 344.4,140.6 343.5,141.4 342.6,142.2 341.8,142.9 340.9,143.7 340.0,144.5 339.1,145.3 338.2,146.1 337.4,147.0 336.5,147.8 335.6,148.6 334.7,149.5 333.8,150.3 332.9,151.2 332.0,152.0 331.1,152.9 330.2,153.8 329.4,154.6 328.5,155.5 327.6,156.4 326.7,157.3 325.8,158.2 324.9,159.1 324.0,160.1 323.1,161.0 322.2,161.9 321.3,162.8 320.4,163.8M344.9,80.9 344.8,80.9 344.7,80.9 344.6,80.9 344.4,81.0 344.3,81.0 344.2,81.1 344.1,81.1 343.9,81.2 343.8,81.3 343.7,81.4 343.5,81.5 343.4,81.7 343.3,81.8 343.1,81.9 343.0,82.1 342.8,82.3 342.7,82.5 342.6,82.7 342.4,82.9 342.3,83.1 342.1,83.4 342.0,83.6 341.8,83.9 341.7,84.1 341.5,84.4 341.3,84.7 341.2,85.0 341.0,85.3 340.9,85.7 340.7,86.0 340.5,86.4 340.4,86.7 340.2,87.1 340.0,87.5 339.8,87.9 339.7,88.3 339.5,88.7 339.3,89.2 339.1,89.6 339.0,90.1 338.8,90.5 338.6,91.0 338.4,91.5 338.2,92.0 338.1,92.5 337.9,93.1 337.7,93.6 337.5,94.1 337.3,94.7 337.1,95.3 336.9,95.8 336.7,96.4 336.5,97.0 336.3,97.6 336.1,98.3 335.9,98.9 335.7,99.5 335.5,100.2 335.3,100.9 335.1,101.5 334.9,102.2 334.7,102.9 334.5,103.6 334.3,104.4 334.1,105.1 333.9,105.8 333.6,106.6 333.4,107.3 333.2,108.1 333.0,108.9 332.8,109.7 332.6,110.5 332.3,111.3 332.1,112.1 331.9,112.9 331.7,113.7 331.5,114.6 331.2,115.4 331.0,116.3 330.8,117.2 330.6,118.1 330.3,119.0 330.1,119.9 329.9,120.8 329.7,121.7 329.4,122.6 329.2,123.6 329.0,124.5 328.7,125.5 328.5,126.4 328.3,127.4 328.0,128.4 327.8,129.4 327.6,130.4 327.3,131.4 327.1,132.4 326.9,133.4 326.6,134.4 326.4,135.5 326.2,136.5 325.9,137.6 325.7,138.6 325.5,139.7 325.2,140.8 325.0,141.9 324.7,143.0 324.5,144.1 324.3,145.2 324.0,146.3 323.8,147.4 323.5,148.5 323.3,149.7 323.1,150.8 322.8,152.0 322.6,153.1 322.3,154.3 322.1,155.4 321.9,156.6 321.6,157.8 321.4,159.0 321.1,160.2 320.9,161.4 320.6,162.6 320.4,163.8M271.7,86.6 271.9,86.6 272.1,86.5 272.4,86.5 272.6,86.5 272.8,86.5 273.1,86.5 273.3,86.5 273.6,86.5 273.8,86.6 274.1,86.6 274.3,86.7 274.6,86.7 274.8,86.8 275.1,86.9 275.4,87.0 275.6,87.2 275.9,87.3 276.2,87.4 276.5,87.6 276.8,87.8 277.0,87.9 277.3,88.1 277.6,88.3 277.9,88.5 278.2,88.8 278.5,89.0 278.8,89.3 279.2,89.5 279.5,89.8 279.8,90.1 280.1,90.4 280.4,90.7 280.8,91.0 281.1,91.3 281.4,91.6 281.8,92.0 282.1,92.4 282.4,92.7 282.8,93.1 283.1,93.5 283.5,93.9 283.8,94.3 284.2,94.8 284.5,95.2 284.9,95.6 285.3,96.1 285.6,96.6 286.0,97.1 286.4,97.6 286.8,98.1 287.1,98.6 287.5,99.1 287.9,99.6 288.3,100.2 288.7,100.7 289.1,101.3 289.4,101.9 289.8,102.5 290.2,103.1 290.6,103.7 291.0,104.3 291.4,104.9 291.8,105.6 292.3,106.2 292.7,106.9 293.1,107.5 293.5,108.2 293.9,108.9 294.3,109.6 294.7,110.3 295.2,111.0 295.6,111.8 296.0,112.5 296.4,113.2 296.9,114.0 297.3,114.8 297.7,115.6 298.2,116.3 298.6,117.1 299.0,117.9 299.5,118.8 299.9,119.6 300.4,120.4 300.8,121.2 301.3,122.1 301.7,123.0 302.2,123.8 302.6,124.7 303.1,125.6 303.5,126.5 304.0,127.4 304.4,128.3 304.9,129.2 305.3,130.1 305.8,131.1 306.3,132.0 306.7,133.0 307.2,133.9 307.6,134.9 308.1,135.9 308.6,136.9 309.0,137.9 309.5,138.9 310.0,139.9 310.4,140.9 310.9,141.9 311.4,142.9 311.9,144.0 312.3,145.0 312.8,146.1 313.3,147.1 313.7,148.2 314.2,149.3 314.7,150.3 315.2,151.4 315.6,152.5 316.1,153.6 316.6,154.7 317.1,155.8 317.5,156.9 318.0,158.1 318.5,159.2 319.0,160.3 319.4,161.5 319.9,162.6 320.4,163.8M204.7,128.6 205.0,128.3 205.4,127.9 205.7,127.6 206.1,127.2 206.5,126.9 206.9,126.6 207.3,126.3 207.7,126.0 208.1,125.7 208.6,125.4 209.0,125.2 209.5,124.9 209.9,124.6 210.4,124.4 210.8,124.2 211.3,123.9 211.8,123.7 212.3,123.5 212.8,123.3 213.3,123.1 213.9,122.9 214.4,122.7 214.9,122.6 215.5,122.4 216.0,122.3 216.6,122.1 217.2,122.0 217.7,121.9 218.3,121.8 218.9,121.7 219.5,121.6 220.1,121.5 220.7,121.4 221.4,121.3 222.0,121.3 222.6,121.2 223.3,121.2 223.9,121.1 224.6,121.1 225.3,121.1 225.9,121.1 226.6,121.1 227.3,121.1 228.0,121.1 228.7,121.2 229.4,121.2 230.1,121.2 230.9,121.3 231.6,121.4 232.3,121.4 233.1,121.5 233.8,121.6 234.6,121.7 235.4,121.8 236.1,122.0 236.9,122.1 237.7,122.2 238.5,122.4 239.3,122.5 240.1,122.7 240.9,122.9 241.7,123.0 242.5,123.2 243.4,123.4 244.2,123.6 245.0,123.8 245.9,124.1 246.7,124.3 247.6,124.5 248.4,124.8 249.3,125.1 250.2,125.3 251.1,125.6 251.9,125.9 252.8,126.2 253.7,126.5 254.6,126.8 255.5,127.1 256.4,127.4 257.4,127.8 258.3,128.1 259.2,128.5 260.1,128.8 261.1,129.2 262.0,129.6 262.9,130.0 263.9,130.4 264.8,130.8 265.8,131.2 266.7,131.6 267.7,132.0 268.7,132.5 269.6,132.9 270.6,133.4 271.6,133.8 272.6,134.3 273.6,134.8 274.5,135.3 275.5,135.8 276.5,136.3 277.5,136.8 278.5,137.3 279.5,137.8 280.5,138.3 281.6,138.9 282.6,139.4 283.6,140.0 284.6,140.5 285.6,141.1 286.7,141.7 287.7,142.3 288.7,142.9 289.8,143.5 290.8,144.1 291.8,144.7 292.9,145.3 293.9,145.9 294.9,146.6 296.0,147.2 297.0,147.9 298.1,148.5 299.1,149.2 300.2,149.8 301.3,150.5 302.3,151.2 303.4,151.9 304.4,152.6 305.5,153.3 306.5,154.0 307.6,154.7 308.7,155.4 309.7,156.2 310.8,156.9 311.9,157.6 312.9,158.4 314.0,159.1 315.1,159.9 316.1,160.7 317.2,161.4 318.3,162.2 319.3,163.0 320.4,163.8M163.8,207.2 163.9,206.6 164.0,206.0 164.2,205.3 164.4,204.7 164.6,204.1 164.8,203.5 165.0,202.9 165.2,202.3 165.4,201.6 165.7,201.0 165.9,200.4 166.2,199.8 166.5,199.2 166.8,198.6 167.1,198.1 167.4,197.5 167.7,196.9 168.0,196.3 168.4,195.7 168.8,195.1 169.1,194.6 169.5,194.0 169.9,193.4 170.3,192.9 170.7,192.3 171.2,191.8 171.6,191.2 172.1,190.7 172.5,190.1 173.0,189.6 173.5,189.0 174.0,188.5 174.5,188.0 175.0,187.5 175.5,186.9 176.1,186.4 176.6,185.9 177.2,185.4 177.8,184.9 178.4,184.4 179.0,183.9 179.6,183.4 180.2,182.9 180.8,182.4 181.4,181.9 182.1,181.5 182.8,181.0 183.4,180.5 184.1,180.1 184.8,179.6 185.5,179.2 186.2,178.7 186.9,178.3 187.7,177.8 188.4,177.4 189.2,177.0 189.9,176.5 190.7,176.1 191.5,175.7 192.3,175.3 193.1,174.9 193.9,174.5 194.7,174.1 195.5,173.7 196.4,173.3 197.2,172.9 198.1,172.5 199.0,172.2 199.8,171.8 200.7,171.4 201.6,171.1 202.5,170.7 203.4,170.4 204.4,170.1 205.3,169.7 206.2,169.4 207.2,169.1 208.2,168.7 209.1,168.4 210.1,168.1 211.1,167.8 212.1,167.5 213.1,167.2 214.1,166.9 215.1,166.7 216.1,166.4 217.2,166.1 218.2,165.8 219.2,165.6 220.3,165.3 221.4,165.1 222.4,164.8 223.5,164.6 224.6,164.4 225.7,164.1 226.8,163.9 227.9,163.7 229.0,163.5 230.1,163.3 231.3,163.1 232.4,162.9 233.5,162.7 234.7,162.5 235.8,162.4 237.0,162.2 238.2,162.0 239.3,161.9 240.5,161.7 241.7,161.6 242.9,161.4 244.1,161.3 245.3,161.2 246.5,161.1 247.7,160.9 249.0,160.8 250.2,160.7 251.4,160.6 252.6,160.5 253.9,160.5 255.1,160.4 256.4,160.3 257.6,160.2 258.9,160.2 260.2,160.1 261.4,160.1 262.7,160.0 264.0,160.0 265.3,159.9 266.6,159.9 267.9,159.9 269.2,159.9 270.5,159.9 271.8,159.9 273.1,159.9 274.4,159.9 275.7,159.9 277.0,159.9 278.3,160.0 279.7,160.0 281.0,160.0 282.3,160.1 283.7,160.1 285.0,160.2 286.3,160.3 287.7,160.3 289.0,160.4 290.4,160.5 291.7,160.6 293.1,160.7 294.4,160.8 295.8,160.9 297.1,161.0 298.5,161.1 299.9,161.2 301.2,161.4 302.6,161.5 304.0,161.6 305.3,161.8 306.7,161.9 308.1,162.1 309.4,162.3 310.8,162.4 312.2,162.6 313.5,162.8 314.9,163.0 316.3,163.2 317.7,163.4 319.0,163.6 320.4,163.8M172.5,299.4 172.3,298.8 172.1,298.2 171.9,297.6 171.7,297.0 171.5,296.4 171.4,295.8 171.2,295.2 171.1,294.6 170.9,294.0 170.8,293.4 170.7,292.8 170.6,292.2 170.5,291.5 170.4,290.9 170.4,290.3 170.3,289.6 170.3,289.0 170.3,288.4 170.2,287.7 170.2,287.1 170.2,286.4 170.3,285.7 170.3,285.1 170.3,284.4 170.4,283.7 170.4,283.1 170.5,282.4 170.6,281.7 170.7,281.0 170.8,280.3 170.9,279.6 171.1,279.0 171.2,278.3 171.4,277.6 171.5,276.9 171.7,276.1 171.9,275.4 172.1,274.7 172.3,274.0 172.5,273.3 172.8,272.6 173.0,271.9 173.3,271.1 173.5,270.4 173.8,269.7 174.1,268.9 174.4,268.2 174.7,267.5 175.0,266.7 175.4,266.0 175.7,265.3 176.1,264.5 176.4,263.8 176.8,263.0 177.2,262.3 177.6,261.5 178.0,260.8 178.4,260.0 178.9,259.2 179.3,258.5 179.7,257.7 180.2,257.0 180.7,256.2 181.2,255.4 181.7,254.7 182.2,253.9 182.7,253.1 183.2,252.4 183.8,251.6 184.3,250.8 184.9,250.1 185.4,249.3 186.0,248.5 186.6,247.7 187.2,247.0 187.8,246.2 188.4,245.4 189.1,244.6 189.7,243.9 190.4,243.1 191.0,242.3 191.7,241.5 192.4,240.7 193.1,240.0 193.8,239.2 194.5,238.4 195.2,237.6 195.9,236.9 196.6,236.1 197.4,235.3 198.2,234.5 198.9,233.7 199.7,233.0 200.5,232.2 201.3,231.4 202.1,230.6 202.9,229.9 203.7,229.1 204.5,228.3 205.4,227.5 206.2,226.8 207.1,226.0 207.9,225.2 208.8,224.5 209.7,223.7 210.6,222.9 211.5,222.2 212.4,221.4 213.3,220.6 214.2,219.9 215.1,219.1 216.1,218.4 217.0,217.6 218.0,216.8 219.0,216.1 219.9,215.3 220.9,214.6 221.9,213.8 222.9,213.1 223.9,212.3 224.9,211.6 225.9,210.9 226.9,210.1 228.0,209.4 229.0,208.7 230.0,207.9 231.1,207.2 232.1,206.5 233.2,205.7 234.3,205.0 235.3,204.3 236.4,203.6 237.5,202.9 238.6,202.2 239.7,201.5 240.8,200.8 241.9,200.0 243.1,199.3 244.2,198.7 245.3,198.0 246.5,197.3 247.6,196.6 248.7,195.9 249.9,195.2 251.1,194.5 252.2,193.9 253.4,193.2 254.6,192.5 255.8,191.9 256.9,191.2 258.1,190.5 259.3,189.9 260.5,189.2 261.7,188.6 262.9,188.0 264.1,187.3 265.4,186.7 266.6,186.1 267.8,185.4 269.0,184.8 270.3,184.2 271.5,183.6 272.8,183.0 274.0,182.4 275.2,181.8 276.5,181.2 277.8,180.6 279.0,180.0 280.3,179.4 281.5,178.8 282.8,178.3 284.1,177.7 285.3,177.1 286.6,176.6 287.9,176.0 289.2,175.5 290.5,174.9 291.7,174.4 293.0,173.8 294.3,173.3 295.6,172.8 296.9,172.3 298.2,171.7 299.5,171.2 300.8,170.7 302.1,170.2 303.4,169.7 304.7,169.2 306.0,168.7 307.3,168.3 308.6,167.8 309.9,167.3 311.2,166.9 312.5,166.4 313.8,166.0 315.2,165.5 316.5,165.1 317.8,164.6 319.1,164.2 320.4,163.8M225.2,367.1 224.8,366.9 224.5,366.6 224.2,366.3 223.9,366.0 223.6,365.7 223.3,365.4 223.0,365.1 222.7,364.8 222.4,364.4 222.2,364.1 221.9,363.7 221.7,363.4 221.4,363.0 221.2,362.6 221.0,362.2 220.7,361.8 220.5,361.4 220.3,361.0 220.1,360.6 219.9,360.1 219.7,359.7 219.6,359.2 219.4,358.7 219.2,358.3 219.1,357.8 218.9,357.3 218.8,356.8 218.7,356.3 218.6,355.8 218.4,355.2 218.3,354.7 218.2,354.1 218.2,353.6 218.1,353.0 218.0,352.4 217.9,351.9 217.9,351.3 217.8,350.7 217.8,350.1 217.7,349.4 217.7,348.8 217.7,348.2 217.7,347.5 217.7,346.9 217.7,346.2 217.7,345.6 217.7,344.9 217.7,344.2 217.8,343.5 217.8,342.8 217.9,342.1 217.9,341.4 218.0,340.7 218.1,339.9 218.2,339.2 218.2,338.5 218.3,337.7 218.4,336.9 218.6,336.2 218.7,335.4 218.8,334.6 218.9,333.8 219.1,333.0 219.2,332.2 219.4,331.4 219.6,330.6 219.7,329.8 219.9,328.9 220.1,328.1 220.3,327.2 220.5,326.4 220.7,325.5 221.0,324.7 221.2,323.8 221.4,322.9 221.7,322.0 221.9,321.1 222.2,320.2 222.4,319.3 222.7,318.4 223.0,317.5 223.3,316.6 223.6,315.6 223.9,314.7 224.2,313.8 224.5,312.8 224.8,311.9 225.2,310.9 225.5,309.9 225.8,309.0 226.2,308.0 226.6,307.0 226.9,306.0 227.3,305.1 227.7,304.1 228.1,303.1 228.5,302.1 228.9,301.0 229.3,300.0 229.7,299.0 230.1,298.0 230.6,297.0 231.0,295.9 231.4,294.9 231.9,293.9 232.4,292.8 232.8,291.8 233.3,290.7 233.8,289.6 234.3,288.6 234.7,287.5 235.2,286.5 235.7,285.4 236.3,284.3 236.8,283.2 237.3,282.1 237.8,281.1 238.4,280.0 238.9,278.9 239.5,277.8 240.0,276.7 240.6,275.6 241.1,274.5 241.7,273.4 242.3,272.3 242.9,271.2 243.5,270.0 244.1,268.9 244.7,267.8 245.3,266.7 245.9,265.6 246.5,264.4 247.1,263.3 247.8,262.2 248.4,261.0 249.0,259.9 249.7,258.8 250.3,257.6 251.0,256.5 251.7,255.4 252.3,254.2 253.0,253.1 253.7,251.9 254.4,250.8 255.1,249.7 255.8,248.5 256.5,247.4 257.2,246.2 257.9,245.1 258.6,243.9 259.3,242.8 260.0,241.6 260.8,240.5 261.5,239.3 262.2,238.2 263.0,237.0 263.7,235.9 264.5,234.7 265.2,233.6 266.0,232.5 266.7,231.3 267.5,230.2 268.3,229.0 269.0,227.9 269.8,226.7 270.6,225.6 271.4,224.4 272.2,223.3 273.0,222.2 273.8,221.0 274.6,219.9 275.4,218.8 276.2,217.6 277.0,216.5 277.8,215.4 278.6,214.2 279.4,213.1 280.3,212.0 281.1,210.9 281.9,209.7 282.8,208.6 283.6,207.5 284.4,206.4 285.3,205.3 286.1,204.2 287.0,203.1 287.8,202.0 288.7,200.9 289.5,199.8 290.4,198.7 291.2,197.6 292.1,196.5 292.9,195.4 293.8,194.3 294.7,193.2 295.6,192.2 296.4,191.1 297.3,190.0 298.2,189.0 299.0,187.9 299.9,186.8 300.8,185.8 301.7,184.7 302.6,183.7 303.4,182.6 304.3,181.6 305.2,180.6 306.1,179.6 307.0,178.5 307.9,177.5 308.8,176.5 309.7,175.5 310.6,174.5 311.4,173.5 312.3,172.5 313.2,171.5 314.1,170.5 315.0,169.5 315.9,168.6 316.8,167.6 317.7,166.6 318.6,165.7 319.5,164.7 320.4,163.8M292.7,377.8 294.0,378.0 295.4,378.2 296.8,378.3 298.2,378.5 299.5,378.7 300.9,378.8 302.3,379.0 303.7,379.1 305.1,379.2 306.5,379.4 307.9,379.5 309.3,379.6 310.6,379.6 312.0,379.7 313.4,379.8 314.8,379.8 316.2,379.8 317.6,379.9 319.0,379.9 320.4,379.9 321.8,379.9 323.2,379.9 324.6,379.8 326.0,379.8 327.4,379.8 328.8,379.7 330.2,379.6 331.5,379.6 332.9,379.5 334.3,379.4 335.7,379.2 337.1,379.1 338.5,379.0 339.9,378.8 341.3,378.7 342.6,378.5 344.0,378.3 345.4,378.2 346.8,378.0 348.1,377.8 349.5,377.5 350.9,377.3 352.3,377.1 353.6,376.8 355.0,376.6 356.3,376.3 357.7,376.0 359.1,375.7 360.4,375.4 361.8,375.1 363.1,374.8 364.4,374.4 365.8,374.1 367.1,373.7 368.5,373.4 369.8,373.0 371.1,372.6 372.4,372.2 373.7,371.8 375.1,371.4 376.4,371.0 377.7,370.5 379.0,370.1 380.3,369.6 381.6,369.2 382.8,368.7 384.1,368.2 385.4,367.7 386.7,367.2 387.9,366.7 389.2,366.2 390.5,365.6 391.7,365.1 392.9,364.5 394.2,364.0 395.4,363.4 396.6,362.8 397.9,362.2 399.1,361.6 400.3,361.0 401.5,360.4 402.7,359.7 403.9,359.1 405.1,358.5 406.3,357.8 407.4,357.1 408.6,356.5 409.8,355.8 410.9,355.1 412.1,354.4 413.2,353.7 414.3,352.9 415.5,352.2 416.6,351.5 417.7,350.7 418.8,350.0 419.9,349.2 421.0,348.5 422.0,347.7 423.1,346.9 424.2,346.1 425.2,345.3 426.3,344.5 427.3,343.7 428.4,342.8 429.4,342.0 430.4,341.1 431.4,340.3 432.4,339.4 433.4,338.6 434.4,337.7 435.4,336.8 436.3,335.9 437.3,335.0 438.2,334.1 439.2,333.2 440.1,332.3 441.0,331.4 441.9,330.4 442.8,329.5 443.7,328.5 444.6,327.6 445.5,326.6 446.3,325.7 447.2,324.7 448.0,323.7 448.9,322.7 449.7,321.7 450.5,320.7 451.3,319.7 452.1,318.7 452.9,317.7 453.7,316.7 454.4,315.6 455.2,314.6 455.9,313.6 456.7,312.5 457.4,311.5 458.1,310.4 458.8,309.3 459.5,308.3 460.2,307.2 460.8,306.1 461.5,305.0 462.1,304.0 462.8,302.9 463.4,301.8 464.0,300.7 464.6,299.5 465.2,298.4 465.8,297.3 466.4,296.2 466.9,295.1 467.5,293.9 468.0,292.8 468.6,291.7 469.1,290.5 469.6,289.4 470.1,288.2 470.6,287.1 471.0,285.9 471.5,284.7 471.9,283.6 472.4,282.4 472.8,281.2 473.2,280.1 473.6,278.9 474.0,277.7 474.4,276.5 474.8,275.3 475.1,274.1 475.5,272.9 475.8,271.7 476.1,270.5 476.4,269.3 476.7,268.1 477.0,266.9 477.3,265.7 477.5,264.5 477.8,263.3 478.0,262.1 478.2,260.9 478.4,259.7 478.6,258.4 478.8,257.2 479.0,256.0 479.2,254.8 479.3,253.5 479.5,252.3 479.6,251.1 479.7,249.9 479.8,248.6 479.9,247.4 480.0,246.2 480.0,245.0 480.1,243.7 480.1,242.5 480.2,241.3 480.2,240.0 480.2,238.8M160.6,240.0 160.6,241.3 160.7,242.5 160.7,243.7 160.8,245.0 160.8,246.2 160.9,247.4 161.0,248.6 161.1,249.9 161.2,251.1 161.3,252.3 161.5,253.5 161.6,254.8 161.8,256.0 162.0,257.2 162.2,258.4 162.4,259.7 162.6,260.9 162.8,262.1 163.0,263.3 163.3,264.5 163.5,265.7 163.8,266.9 164.1,268.1 164.4,269.3 164.7,270.5 165.0,271.7 165.3,272.9 165.7,274.1 166.0,275.3 166.4,276.5 166.8,277.7 167.2,278.9 167.6,280.1 168.0,281.2 168.4,282.4 168.9,283.6 169.3,284.7 169.8,285.9 170.2,287.1 170.7,288.2 171.2,289.4 171.7,290.5 172.2,291.7 172.8,292.8 173.3,293.9 173.9,295.1 174.4,296.2 175.0,297.3 175.6,298.4 176.2,299.5 176.8,300.7 177.4,301.8 178.0,302.9 178.7,304.0 179.3,305.0 180.0,306.1 180.6,307.2 181.3,308.3 182.0,309.3 182.7,310.4 183.4,311.5 184.1,312.5 184.9,313.6 185.6,314.6 186.4,315.6 187.1,316.7 187.9,317.7 188.7,318.7 189.5,319.7 190.3,320.7 191.1,321.7 191.9,322.7 192.8,323.7 193.6,324.7 194.5,325.7 195.3,326.6 196.2,327.6 197.1,328.5 198.0,329.5 198.9,330.4 199.8,331.4 200.7,332.3 201.6,333.2 202.6,334.1 203.5,335.0 204.5,335.9 205.4,336.8 206.4,337.7 207.4,338.6 208.4,339.4 209.4,340.3 210.4,341.1 211.4,342.0 212.4,342.8 213.5,343.7 214.5,344.5 215.6,345.3 216.6,346.1 217.7,346.9 218.8,347.7 219.8,348.5 220.9,349.2 222.0,350.0 223.1,350.7 224.2,351.5 225.3,352.2 226.5,352.9 227.6,353.7 228.7,354.4 229.9,355.1 231.0,355.8 232.2,356.5 233.4,357.1 234.5,357.8 235.7,358.5 236.9,359.1 238.1,359.7 239.3,360.4 240.5,361.0 241.7,361.6 242.9,362.2 244.2,362.8 245.4,363.4 246.6,364.0 247.9,364.5 249.1,365.1 250.3,365.6 251.6,366.2 252.9,366.7 254.1,367.2 255.4,367.7 256.7,368.2 258.0,368.7 259.2,369.2 260.5,369.6 261.8,370.1 263.1,370.5 264.4,371.0 265.7,371.4 267.1,371.8 268.4,372.2 269.7,372.6 271.0,373.0 272.3,373.4 273.7,373.7 275.0,374.1 276.4,374.4 277.7,374.8 279.0,375.1 280.4,375.4 281.7,375.7 283.1,376.0 284.5,376.3 285.8,376.6 287.2,376.8 288.5,377.1 289.9,377.3 291.3,377.5 292.7,377.8M296.4,321.6 297.6,321.8 298.8,322.0 299.9,322.1 301.1,322.3 302.3,322.4 303.5,322.6 304.7,322.7 305.9,322.8 307.1,322.9 308.3,323.0 309.5,323.1 310.7,323.2 312.0,323.3 313.2,323.3 314.4,323.4 315.6,323.4 316.8,323.4 318.0,323.5 319.2,323.5 320.4,323.5 321.6,323.5 322.8,323.5 324.0,323.4 325.2,323.4 326.4,323.4 327.6,323.3 328.8,323.3 330.1,323.2 331.3,323.1 332.5,323.0 333.7,322.9 334.9,322.8 336.1,322.7 337.3,322.6 338.5,322.4 339.7,322.3 340.9,322.1 342.0,322.0 343.2,321.8 344.4,321.6 345.6,321.4 346.8,321.2 348.0,321.0 349.2,320.8 350.4,320.6 351.5,320.3 352.7,320.1 353.9,319.9 355.1,319.6 356.2,319.3 357.4,319.0 358.5,318.7 359.7,318.4 360.9,318.1 362.0,317.8 363.2,317.5 364.3,317.2 365.5,316.8 366.6,316.5 367.7,316.1 368.9,315.7 370.0,315.4 371.1,315.0 372.2,314.6 373.4,314.2 374.5,313.8 375.6,313.3 376.7,312.9 377.8,312.5 378.9,312.0 380.0,311.6 381.1,311.1 382.1,310.6 383.2,310.2 384.3,309.7 385.4,309.2 386.4,308.7 387.5,308.2 388.5,307.6 389.6,307.1 390.6,306.6 391.7,306.0 392.7,305.5 393.7,304.9 394.8,304.3 395.8,303.8 396.8,303.2 397.8,302.6 398.8,302.0 399.8,301.4 400.8,300.8 401.7,300.1 402.7,299.5 403.7,298.9 404.6,298.2 405.6,297.6 406.6,296.9 407.5,296.3 408.4,295.6 409.4,294.9 410.3,294.2 411.2,293.5 412.1,292.8 413.0,292.1 413.9,291.4 414.8,290.7 415.7,289.9 416.5,289.2 417.4,288.4 418.3,287.7 419.1,286.9 420.0,286.2 420.8,285.4 421.6,284.6 422.4,283.8 423.2,283.1 424.0,282.3 424.8,281.5 425.6,280.6 426.4,279.8 427.2,279.0 427.9,278.2 428.7,277.4 429.5,276.5 430.2,275.7 430.9,274.8 431.6,274.0 432.4,273.1 433.1,272.2 433.8,271.4 434.5,270.5 435.1,269.6 435.8,268.7 436.5,267.8 437.1,266.9 437.8,266.0 438.4,265.1 439.0,264.2 439.6,263.3 440.2,262.4 440.8,261.5 441.4,260.5 442.0,259.6 442.6,258.7 443.2,257.7 443.7,256.8 444.3,255.8 444.8,254.9 445.3,253.9 445.8,252.9 446.3,252.0 446.8,251.0 447.3,250.0 447.8,249.0 448.3,248.1 448.7,247.1 449.2,246.1 449.6,245.1 450.0,244.1 450.4,243.1 450.9,242.1 451.3,241.1 451.6,240.1 452.0,239.0 452.4,238.0 452.7,237.0 453.1,236.0 453.4,235.0 453.8,233.9 454.1,232.9 454.4,231.9 454.7,230.9 455.0,229.8 455.2,228.8 455.5,227.7 455.8,226.7 456.0,225.7 456.2,224.6 456.5,223.6 456.7,222.5 456.9,221.5 457.1,220.4 457.3,219.4 457.4,218.3 457.6,217.2 457.8,216.2 457.9,215.1 458.0,214.1 458.2,213.0 458.3,211.9 458.4,210.9 458.5,209.8 458.5,208.7 458.6,207.7 458.7,206.6 458.7,205.6 458.7,204.5 458.8,203.4 458.8,202.4 458.8,201.3 458.8,200.2 458.8,199.2 458.7,198.1 458.7,197.0 458.7,196.0 458.6,194.9 458.5,193.8 458.5,192.8 458.4,191.7 458.3,190.6 458.2,189.6 458.0,188.5 457.9,187.5 457.8,186.4 457.6,185.3 457.4,184.3 457.3,183.2 457.1,182.2 456.9,181.1 456.7,180.1 456.5,179.0 456.2,178.0 456.0,176.9 455.8,175.9 455.5,174.8 455.2,173.8 455.0,172.8 454.7,171.7 454.4,170.7 454.1,169.7 453.8,168.6 453.4,167.6 453.1,166.6 452.7,165.6 452.4,164.5 452.0,163.5 451.6,162.5 451.3,161.5 450.9,160.5 450.4,159.5 450.0,158.5 449.6,157.5 449.2,156.5 448.7,155.5 448.3,154.5 447.8,153.5 447.3,152.6 446.8,151.6 446.3,150.6 445.8,149.6 445.3,148.7 444.8,147.7 444.3,146.8 443.7,145.8 443.2,144.9 442.6,143.9 442.0,143.0 441.4,142.0 440.8,141.1 440.2,140.2 439.6,139.3 439.0,138.4 438.4,137.4 437.8,136.5 437.1,135.6 436.5,134.7 435.8,133.8 435.1,133.0 434.5,132.1 433.8,131.2 433.1,130.3 432.4,129.5 431.6,128.6 430.9,127.8 430.2,126.9 429.5,126.1 428.7,125.2 427.9,124.4 427.2,123.6 426.4,122.7 425.6,121.9 424.8,121.1 424.0,120.3 423.2,119.5 422.4,118.7 421.6,118.0 420.8,117.2 420.0,116.4 419.1,115.6 418.3,114.9 417.4,114.1 416.5,113.4 415.7,112.7 414.8,111.9 413.9,111.2 413.0,110.5 412.1,109.8 411.2,109.1 410.3,108.4 409.4,107.7 408.4,107.0 407.5,106.3 406.6,105.7 405.6,105.0 404.6,104.3 403.7,103.7 402.7,103.1 401.7,102.4 400.8,101.8 399.8,101.2 398.8,100.6 397.8,100.0 396.8,99.4 395.8,98.8 394.8,98.2 393.7,97.7 392.7,97.1 391.7,96.6 390.6,96.0 389.6,95.5 388.5,94.9 387.5,94.4 386.4,93.9 385.4,93.4 384.3,92.9 383.2,92.4 382.1,91.9 381.1,91.5 380.0,91.0 378.9,90.5 377.8,90.1 376.7,89.7 375.6,89.2 374.5,88.8 373.4,88.4 372.2,88.0 371.1,87.6 370.0,87.2 368.9,86.8 367.7,86.5 366.6,86.1 365.5,85.8 364.3,85.4 363.2,85.1 362.0,84.8 360.9,84.4 359.7,84.1 358.5,83.8 357.4,83.5 356.2,83.3 355.1,83.0 353.9,82.7 352.7,82.5 351.5,82.2 350.4,82.0 349.2,81.8 348.0,81.6 346.8,81.3 345.6,81.1 344.4,81.0 343.2,80.8 342.0,80.6 340.9,80.4 339.7,80.3 338.5,80.1 337.3,80.0 336.1,79.9 334.9,79.8 333.7,79.7 332.5,79.6 331.3,79.5 330.1,79.4 328.8,79.3 327.6,79.3 326.4,79.2 325.2,79.2 324.0,79.1 322.8,79.1 321.6,79.1 320.4,79.1 319.2,79.1 318.0,79.1 316.8,79.1 315.6,79.2 314.4,79.2 313.2,79.3 312.0,79.3 310.7,79.4 309.5,79.5 308.3,79.6 307.1,79.7 305.9,79.8 304.7,79.9 303.5,80.0 302.3,80.1 301.1,80.3 299.9,80.4 298.8,80.6 297.6,80.8 296.4,81.0 295.2,81.1 294.0,81.3 292.8,81.6 291.6,81.8 290.4,82.0 289.3,82.2 288.1,82.5 286.9,82.7 285.7,83.0 284.6,83.3 283.4,83.5 282.3,83.8 281.1,84.1 279.9,84.4 278.8,84.8 277.6,85.1 276.5,85.4 275.3,85.8 274.2,86.1 273.1,86.5 271.9,86.8 270.8,87.2 269.7,87.6 268.6,88.0 267.4,88.4 266.3,88.8 265.2,89.2 264.1,89.7 263.0,90.1 261.9,90.5 260.8,91.0 259.7,91.5 258.7,91.9 257.6,92.4 256.5,92.9 255.4,93.4 254.4,93.9 253.3,94.4 252.3,94.9 251.2,95.5 250.2,96.0 249.1,96.6 248.1,97.1 247.1,97.7 246.0,98.2 245.0,98.8 244.0,99.4 243.0,100.0 242.0,100.6 241.0,101.2 240.0,101.8 239.1,102.4 238.1,103.1 237.1,103.7 236.2,104.3 235.2,105.0 234.2,105.7 233.3,106.3 232.4,107.0 231.4,107.7 230.5,108.4 229.6,109.1 228.7,109.8 227.8,110.5 226.9,111.2 226.0,111.9 225.1,112.7 224.3,113.4 223.4,114.1 222.5,114.9 221.7,115.6 220.8,116.4 220.0,117.2 219.2,118.0 218.4,118.7 217.6,119.5 216.8,120.3 216.0,121.1 215.2,121.9 214.4,122.7 213.6,123.6 212.9,124.4 212.1,125.2 211.3,126.1 210.6,126.9 209.9,127.8 209.2,128.6 208.4,129.5 207.7,130.3 207.0,131.2 206.3,132.1 205.7,133.0 205.0,133.8 204.3,134.7 203.7,135.6 203.0,136.5 202.4,137.4 201.8,138.4 201.2,139.3 200.5,140.2 200.0,141.1 199.4,142.0 198.8,143.0 198.2,143.9 197.6,144.9 197.1,145.8 196.5,146.8 196.0,147.7 195.5,148.7 195.0,149.6 194.5,150.6 194.0,151.6 193.5,152.6 193.0,153.5 192.5,154.5 192.1,155.5 191.6,156.5 191.2,157.5 190.8,158.5 190.4,159.5 189.9,160.5 189.5,161.5 189.2,162.5 188.8,163.5 188.4,164.5 188.1,165.6 187.7,166.6 187.4,167.6 187.0,168.6 186.7,169.7 186.4,170.7 186.1,171.7 185.8,172.8 185.6,173.8 185.3,174.8 185.0,175.9 184.8,176.9 184.6,178.0 184.3,179.0 184.1,180.1 183.9,181.1 183.7,182.2 183.5,183.2 183.4,184.3 183.2,185.3 183.0,186.4 182.9,187.5 182.8,188.5 182.6,189.6 182.5,190.6 182.4,191.7 182.3,192.8 182.3,193.8 182.2,194.9 182.1,196.0 182.1,197.0 182.1,198.1 182.0,199.2 182.0,200.2 182.0,201.3 182.0,202.4 182.0,203.4 182.1,204.5 182.1,205.6 182.1,206.6 182.2,207.7 182.3,208.7 182.3,209.8 182.4,210.9 182.5,211.9 182.6,213.0 182.8,214.1 182.9,215.1 183.0,216.2 183.2,217.2 183.4,218.3 183.5,219.4 183.7,220.4 183.9,221.5 184.1,222.5 184.3,223.6 184.6,224.6 184.8,225.7 185.0,226.7 185.3,227.7 185.6,228.8 185.8,229.8 186.1,230.9 186.4,231.9 186.7,232.9 187.0,233.9 187.4,235.0 187.7,236.0 188.1,237.0 188.4,238.0 188.8,239.0 189.2,240.1 189.5,241.1 189.9,242.1 190.4,243.1 190.8,244.1 191.2,245.1 191.6,246.1 192.1,247.1 192.5,248.1 193.0,249.0 193.5,250.0 194.0,251.0 194.5,252.0 195.0,252.9 195.5,253.9 196.0,254.9 196.5,255.8 197.1,256.8 197.6,257.7 198.2,258.7 198.8,259.6 199.4,260.5 200.0,261.5 200.5,262.4 201.2,263.3 201.8,264.2 202.4,265.1 203.0,266.0 203.7,266.9 204.3,267.8 205.0,268.7 205.7,269.6 206.3,270.5 207.0,271.4 207.7,272.2 208.4,273.1 209.2,274.0 209.9,274.8 210.6,275.7 211.3,276.5 212.1,277.4 212.9,278.2 213.6,279.0 214.4,279.8 215.2,280.6 216.0,281.5 216.8,282.3 217.6,283.1 218.4,283.8 219.2,284.6 220.0,285.4 220.8,286.2 221.7,286.9 222.5,287.7 223.4,288.4 224.3,289.2 225.1,289.9 226.0,290.7 226.9,291.4 227.8,292.1 228.7,292.8 229.6,293.5 230.5,294.2 231.4,294.9 232.4,295.6 233.3,296.3 234.2,296.9 235.2,297.6 236.2,298.2 237.1,298.9 238.1,299.5 239.1,300.1 240.0,300.8 241.0,301.4 242.0,302.0 243.0,302.6 244.0,303.2 245.0,303.8 246.0,304.3 247.1,304.9 248.1,305.5 249.1,306.0 250.2,306.6 251.2,307.1 252.3,307.6 253.3,308.2 254.4,308.7 255.4,309.2 256.5,309.7 257.6,310.2 258.7,310.6 259.7,311.1 260.8,311.6 261.9,312.0 263.0,312.5 264.1,312.9 265.2,313.3 266.3,313.8 267.4,314.2 268.6,314.6 269.7,315.0 270.8,315.4 271.9,315.7 273.1,316.1 274.2,316.5 275.3,316.8 276.5,317.2 277.6,317.5 278.8,317.8 279.9,318.1 281.1,318.4 282.3,318.7 283.4,319.0 284.6,319.3 285.7,319.6 286.9,319.9 288.1,320.1 289.3,320.3 290.4,320.6 291.6,320.8 292.8,321.0 294.0,321.2 295.2,321.4 296.4,321.6M306.5,243.3 307.2,243.4 307.9,243.5 308.6,243.6 309.3,243.7 310.0,243.8 310.7,243.9 311.4,243.9 312.0,244.0 312.7,244.1 313.4,244.1 314.1,244.2 314.8,244.2 315.5,244.2 316.2,244.3 316.9,244.3 317.6,244.3 318.3,244.4 319.0,244.4 319.7,244.4 320.4,244.4 321.1,244.4 321.8,244.4 322.5,244.4 323.2,244.3 323.9,244.3 324.6,244.3 325.3,244.2 326.0,244.2 326.7,244.2 327.4,244.1 328.1,244.1 328.8,244.0 329.4,243.9 330.1,243.9 330.8,243.8 331.5,243.7 332.2,243.6 332.9,243.5 333.6,243.4 334.3,243.3 335.0,243.2 335.6,243.1 336.3,243.0 337.0,242.8 337.7,242.7 338.4,242.6 339.1,242.4 339.7,242.3 340.4,242.1 341.1,242.0 341.8,241.8 342.4,241.6 343.1,241.5 343.8,241.3 344.4,241.1 345.1,240.9 345.8,240.7 346.4,240.5 347.1,240.3 347.7,240.1 348.4,239.9 349.0,239.7 349.7,239.5 350.3,239.2 351.0,239.0 351.6,238.8 352.3,238.5 352.9,238.3 353.5,238.0 354.2,237.8 354.8,237.5 355.4,237.2 356.1,237.0 356.7,236.7 357.3,236.4 357.9,236.1 358.5,235.8 359.1,235.5 359.7,235.2 360.3,234.9 361.0,234.6 361.6,234.3 362.1,234.0 362.7,233.7 363.3,233.3 363.9,233.0 364.5,232.7 365.1,232.3 365.7,232.0 366.2,231.6 366.8,231.3 367.4,230.9 367.9,230.5 368.5,230.2 369.0,229.8 369.6,229.4 370.1,229.0 370.7,228.7 371.2,228.3 371.8,227.9 372.3,227.5 372.8,227.1 373.3,226.7 373.9,226.3 374.4,225.8 374.9,225.4 375.4,225.0 375.9,224.6 376.4,224.1 376.9,223.7 377.4,223.3 377.9,222.8 378.4,222.4 378.8,221.9 379.3,221.5 379.8,221.0 380.2,220.6 380.7,220.1 381.2,219.6 381.6,219.2 382.1,218.7 382.5,218.2 382.9,217.7 383.4,217.3 383.8,216.8 384.2,216.3 384.6,215.8 385.0,215.3 385.4,214.8 385.9,214.3 386.2,213.8 386.6,213.3 387.0,212.8 387.4,212.3 387.8,211.7 388.2,211.2 388.5,210.7 388.9,210.2 389.2,209.6 389.6,209.1 389.9,208.6 390.3,208.0 390.6,207.5 390.9,206.9 391.3,206.4 391.6,205.9 391.9,205.3 392.2,204.8 392.5,204.2 392.8,203.6 393.1,203.1 393.4,202.5 393.7,202.0 393.9,201.4 394.2,200.8 394.5,200.3 394.7,199.7 395.0,199.1 395.2,198.5 395.5,198.0 395.7,197.4 395.9,196.8 396.2,196.2 396.4,195.6 396.6,195.0 396.8,194.5 397.0,193.9 397.2,193.3 397.4,192.7 397.6,192.1 397.8,191.5 397.9,190.9 398.1,190.3 398.3,189.7 398.4,189.1 398.6,188.5 398.7,187.9 398.8,187.3 399.0,186.7 399.1,186.1 399.2,185.5 399.3,184.9 399.4,184.3 399.5,183.6 399.6,183.0 399.7,182.4 399.8,181.8 399.9,181.2 399.9,180.6 400.0,180.0 400.1,179.4 400.1,178.8 400.2,178.1 400.2,177.5 400.2,176.9 400.3,176.3 400.3,175.7 400.3,175.1 400.3,174.4 400.3,173.8 400.3,173.2 400.3,172.6 400.3,172.0 400.3,171.4 400.2,170.8 400.2,170.1 400.2,169.5 400.1,168.9 400.1,168.3 400.0,167.7 399.9,167.1 399.9,166.5 399.8,165.8 399.7,165.2 399.6,164.6 399.5,164.0 399.4,163.4 399.3,162.8 399.2,162.2 399.1,161.6 399.0,161.0 398.8,160.4 398.7,159.8 398.6,159.2 398.4,158.6 398.3,158.0 398.1,157.4 397.9,156.8 397.8,156.2 397.6,155.6 397.4,155.0 397.2,154.4 397.0,153.8 396.8,153.2 396.6,152.6 396.4,152.0 396.2,151.4 395.9,150.9 395.7,150.3 395.5,149.7 395.2,149.1 395.0,148.5 394.7,148.0 394.5,147.4 394.2,146.8 393.9,146.3 393.7,145.7 393.4,145.1 393.1,144.6 392.8,144.0 392.5,143.5 392.2,142.9 391.9,142.4 391.6,141.8 391.3,141.3 390.9,140.7 390.6,140.2 390.3,139.6 389.9,139.1 389.6,138.6 389.2,138.0 388.9,137.5 388.5,137.0 388.2,136.4 387.8,135.9 387.4,135.4 387.0,134.9 386.6,134.4 386.2,133.9 385.9,133.4 385.4,132.9 385.0,132.4 384.6,131.9 384.2,131.4 383.8,130.9 383.4,130.4 382.9,129.9 382.5,129.4 382.1,129.0 381.6,128.5 381.2,128.0 380.7,127.5 380.2,127.1 379.8,126.6 379.3,126.2 378.8,125.7 378.4,125.3 377.9,124.8 377.4,124.4 376.9,123.9 376.4,123.5 375.9,123.1 375.4,122.7 374.9,122.2 374.4,121.8 373.9,121.4 373.3,121.0 372.8,120.6 372.3,120.2 371.8,119.8 371.2,119.4 370.7,119.0 370.1,118.6 369.6,118.2 369.0,117.9 368.5,117.5 367.9,117.1 367.4,116.8 366.8,116.4 366.2,116.0 365.7,115.7 365.1,115.3 364.5,115.0 363.9,114.7 363.3,114.3 362.7,114.0 362.1,113.7 361.6,113.4 361.0,113.0 360.3,112.7 359.7,112.4 359.1,112.1 358.5,111.8 357.9,111.5 357.3,111.3 356.7,111.0 356.1,110.7 355.4,110.4 354.8,110.2 354.2,109.9 353.5,109.6 352.9,109.4 352.3,109.1 351.6,108.9 351.0,108.7 350.3,108.4 349.7,108.2 349.0,108.0 348.4,107.7 347.7,107.5 347.1,107.3 346.4,107.1 345.8,106.9 345.1,106.7 344.4,106.5 343.8,106.4 343.1,106.2 342.4,106.0 341.8,105.8 341.1,105.7 340.4,105.5 339.7,105.4 339.1,105.2 338.4,105.1 337.7,105.0 337.0,104.8 336.3,104.7 335.6,104.6 335.0,104.5 334.3,104.4 333.6,104.2 332.9,104.2 332.2,104.1 331.5,104.0 330.8,103.9 330.1,103.8 329.4,103.7 328.8,103.7 328.1,103.6 327.4,103.6 326.7,103.5 326.0,103.5 325.3,103.4 324.6,103.4 323.9,103.3 323.2,103.3 322.5,103.3 321.8,103.3 321.1,103.3 320.4,103.3 319.7,103.3 319.0,103.3 318.3,103.3 317.6,103.3 316.9,103.3 316.2,103.4 315.5,103.4 314.8,103.5 314.1,103.5 313.4,103.6 312.7,103.6 312.0,103.7 311.4,103.7 310.7,103.8 310.0,103.9 309.3,104.0 308.6,104.1 307.9,104.2 307.2,104.2 306.5,104.4 305.8,104.5 305.2,104.6 304.5,104.7 303.8,104.8 303.1,105.0 302.4,105.1 301.7,105.2 301.1,105.4 300.4,105.5 299.7,105.7 299.0,105.8 298.4,106.0 297.7,106.2 297.0,106.4 296.4,106.5 295.7,106.7 295.0,106.9 294.4,107.1 293.7,107.3 293.1,107.5 292.4,107.7 291.8,108.0 291.1,108.2 290.5,108.4 289.8,108.7 289.2,108.9 288.5,109.1 287.9,109.4 287.3,109.6 286.6,109.9 286.0,110.2 285.4,110.4 284.7,110.7 284.1,111.0 283.5,111.3 282.9,111.5 282.3,111.8 281.7,112.1 281.1,112.4 280.4,112.7 279.8,113.0 279.2,113.4 278.7,113.7 278.1,114.0 277.5,114.3 276.9,114.7 276.3,115.0 275.7,115.3 275.1,115.7 274.6,116.0 274.0,116.4 273.4,116.8 272.9,117.1 272.3,117.5 271.8,117.9 271.2,118.2 270.7,118.6 270.1,119.0 269.6,119.4 269.0,119.8 268.5,120.2 268.0,120.6 267.5,121.0 266.9,121.4 266.4,121.8 265.9,122.2 265.4,122.7 264.9,123.1 264.4,123.5 263.9,123.9 263.4,124.4 262.9,124.8 262.4,125.3 262.0,125.7 261.5,126.2 261.0,126.6 260.6,127.1 260.1,127.5 259.6,128.0 259.2,128.5 258.7,129.0 258.3,129.4 257.9,129.9 257.4,130.4 257.0,130.9 256.6,131.4 256.2,131.9 255.8,132.4 255.4,132.9 254.9,133.4 254.6,133.9 254.2,134.4 253.8,134.9 253.4,135.4 253.0,135.9 252.6,136.4 252.3,137.0 251.9,137.5 251.6,138.0 251.2,138.6 250.9,139.1 250.5,139.6 250.2,140.2 249.9,140.7 249.5,141.3 249.2,141.8 248.9,142.4 248.6,142.9 248.3,143.5 248.0,144.0 247.7,144.6 247.4,145.1 247.1,145.7 246.9,146.3 246.6,146.8 246.3,147.4 246.1,148.0 245.8,148.5 245.6,149.1 245.3,149.7 245.1,150.3 244.9,150.9 244.6,151.4 244.4,152.0 244.2,152.6 244.0,153.2 243.8,153.8 243.6,154.4 243.4,155.0 243.2,155.6 243.0,156.2 242.9,156.8 242.7,157.4 242.5,158.0 242.4,158.6 242.2,159.2 242.1,159.8 242.0,160.4 241.8,161.0 241.7,161.6 241.6,162.2 241.5,162.8 241.4,163.4 241.3,164.0 241.2,164.6 241.1,165.2 241.0,165.8 240.9,166.5 240.9,167.1 240.8,167.7 240.7,168.3 240.7,168.9 240.6,169.5 240.6,170.1 240.6,170.8 240.5,171.4 240.5,172.0 240.5,172.6 240.5,173.2 240.5,173.8 240.5,174.4 240.5,175.1 240.5,175.7 240.5,176.3 240.6,176.9 240.6,177.5 240.6,178.1 240.7,178.8 240.7,179.4 240.8,180.0 240.9,180.6 240.9,181.2 241.0,181.8 241.1,182.4 241.2,183.0 241.3,183.6 241.4,184.3 241.5,184.9 241.6,185.5 241.7,186.1 241.8,186.7 242.0,187.3 242.1,187.9 242.2,188.5 242.4,189.1 242.5,189.7 242.7,190.3 242.9,190.9 243.0,191.5 243.2,192.1 243.4,192.7 243.6,193.3 243.8,193.9 244.0,194.5 244.2,195.0 244.4,195.6 244.6,196.2 244.9,196.8 245.1,197.4 245.3,198.0 245.6,198.5 245.8,199.1 246.1,199.7 246.3,200.3 246.6,200.8 246.9,201.4 247.1,202.0 247.4,202.5 247.7,203.1 248.0,203.6 248.3,204.2 248.6,204.8 248.9,205.3 249.2,205.9 249.5,206.4 249.9,206.9 250.2,207.5 250.5,208.0 250.9,208.6 251.2,209.1 251.6,209.6 251.9,210.2 252.3,210.7 252.6,211.2 253.0,211.7 253.4,212.3 253.8,212.8 254.2,213.3 254.6,213.8 254.9,214.3 255.4,214.8 255.8,215.3 256.2,215.8 256.6,216.3 257.0,216.8 257.4,217.3 257.9,217.7 258.3,218.2 258.7,218.7 259.2,219.2 259.6,219.6 260.1,220.1 260.6,220.6 261.0,221.0 261.5,221.5 262.0,221.9 262.4,222.4 262.9,222.8 263.4,223.3 263.9,223.7 264.4,224.1 264.9,224.6 265.4,225.0 265.9,225.4 266.4,225.8 266.9,226.3 267.5,226.7 268.0,227.1 268.5,227.5 269.0,227.9 269.6,228.3 270.1,228.7 270.7,229.0 271.2,229.4 271.8,229.8 272.3,230.2 272.9,230.5 273.4,230.9 274.0,231.3 274.6,231.6 275.1,232.0 275.7,232.3 276.3,232.7 276.9,233.0 277.5,233.3 278.1,233.7 278.7,234.0 279.2,234.3 279.8,234.6 280.4,234.9 281.1,235.2 281.7,235.5 282.3,235.8 282.9,236.1 283.5,236.4 284.1,236.7 284.7,237.0 285.4,237.2 286.0,237.5 286.6,237.8 287.3,238.0 287.9,238.3 288.5,238.5 289.2,238.8 289.8,239.0 290.5,239.2 291.1,239.5 291.8,239.7 292.4,239.9 293.1,240.1 293.7,240.3 294.4,240.5 295.0,240.7 295.7,240.9 296.4,241.1 297.0,241.3 297.7,241.5 298.4,241.6 299.0,241.8 299.7,242.0 300.4,242.1 301.1,242.3 301.7,242.4 302.4,242.6 303.1,242.7 303.8,242.8 304.5,243.0 305.2,243.1 305.8,243.2 306.5,243.3" fill="none" stroke="#a8a8a8" stroke-width="0.8" opacity="0.9"/>
<g fill="none" stroke="#000" stroke-width="1" shape-rendering="crispEdges"><path d="M320.1,112.9 322.0,114.3 323.3,114.7 324.5,115.2 325.7,115.7 326.9,116.3 328.0,116.9 329.1,117.5 330.3,118.3 331.3,119.1 332.2,119.8 333.0,120.4 333.7,121.1 334.7,121.3 335.6,121.5 336.6,121.7 337.5,121.9 338.4,122.2 339.4,122.4 340.1,123.1 340.8,123.7 341.8,123.8 342.9,123.8 343.9,123.9 344.8,124.3 345.7,124.7 346.6,125.1 347.4,125.5 347.5,126.8 347.5,128.2 347.9,129.0 348.4,129.7 348.8,130.5 349.7,130.8 350.6,131.1 351.5,131.4 352.4,131.7 352.3,132.9 352.1,134.1 352.7,134.6 353.2,135.2 353.7,135.8 354.2,136.4 354.7,137.1 355.1,137.7 355.5,138.3 356.4,138.7 357.3,139.0 358.2,139.4 359.3,139.7 360.4,140.1 360.8,140.7 361.3,141.4 361.8,142.0 362.2,142.7 363.1,143.2 364.1,143.7 365.0,144.2 364.3,145.3 363.6,146.3 361.5,147.4 360.8,148.7 361.6,149.2 362.3,149.7 363.1,150.3 362.9,151.0 362.7,151.8 362.5,152.6 362.9,153.2 363.2,153.8 363.5,154.5 363.8,155.2 363.9,156.0 364.0,156.8 364.0,157.5 362.1,158.3 361.5,159.3 360.0,158.6 358.5,158.0 356.9,159.0 356.7,159.6 356.5,160.2 356.2,160.7 356.0,161.3 355.6,161.8 355.2,162.4 354.8,162.9 354.4,163.4 355.2,164.0 356.1,164.6 356.9,165.2 357.6,165.8 358.3,166.5 359.0,167.2 359.3,167.8 359.5,168.5 359.7,169.1 360.1,169.8 360.5,170.6 360.9,171.3 361.3,172.0 361.8,172.9 362.3,173.7 362.8,174.6 363.3,175.4 365.1,176.4 365.2,177.2 365.3,178.0 365.5,178.9 365.6,179.7 365.6,180.6 365.7,181.4 367.2,181.3 368.8,181.1 372.3,181.8 371.3,182.4 370.3,183.0 369.3,183.6 365.7,181.4 365.3,182.0 364.8,182.7 364.4,183.3 363.9,183.9 363.4,184.4 365.2,185.9 365.7,187.1 366.3,188.4 369.4,190.4 372.6,192.5 374.2,192.4 375.8,195.2 371.6,194.1 368.9,190.6 365.2,188.7 361.1,187.4 360.9,188.6 362.5,190.7 364.0,192.9 367.3,195.4 368.3,197.4 367.8,198.2 367.3,199.0 366.8,199.8 366.3,200.6 365.7,201.3 363.1,200.1 361.3,200.3 361.4,201.9 361.5,203.5 361.4,205.1 361.2,206.8 360.1,207.3 358.9,207.7 357.7,208.2 357.5,209.9 357.2,211.6 356.4,212.3 355.7,213.1 354.9,213.8 353.2,211.9 352.6,213.3 351.9,214.8 353.8,217.0 355.1,217.2 356.5,217.4 355.3,218.7 355.0,220.4 354.7,222.2 355.0,223.6 354.2,224.8 353.3,226.0 350.9,224.9 349.1,223.7 347.4,222.5 345.1,221.3 344.3,220.7 345.4,220.6 346.5,220.4 347.9,220.5 349.3,220.5 350.7,220.4 351.7,220.0 352.7,219.6 353.7,219.2 352.2,215.6 350.1,214.5 348.6,214.3 347.1,214.1 345.7,214.0 344.3,213.8 343.3,213.9 342.3,214.0 341.2,214.0 340.2,213.9 339.1,213.6 337.8,212.6 336.1,211.9 334.5,211.8 333.6,212.4 332.7,213.1 331.7,214.0 330.7,214.9 329.9,215.7 329.0,216.5 328.2,217.4 327.3,218.2 326.4,219.0 325.0,221.1 324.7,224.2 323.6,227.6 322.5,230.4 320.4,233.2 318.3,235.1 315.9,237.0 314.0,238.6 313.5,241.3 313.7,244.1 313.9,246.9 314.1,248.3 316.0,249.8 318.2,248.8 320.0,247.2 321.1,245.8 321.5,247.2 322.1,247.4 322.6,249.1 323.2,251.0 324.4,253.5 324.4,254.9 325.1,257.1 327.0,257.0 327.6,255.2 329.2,254.6 330.2,251.7 330.2,248.9 331.3,247.1 332.6,245.2 332.3,243.0 330.5,242.1 330.0,239.1 330.2,236.8 332.2,233.8 333.6,231.3 333.9,229.2 334.6,226.8 336.5,226.4 338.3,228.3 337.0,230.9 335.7,233.7 334.7,236.2 335.6,238.8 335.8,241.4 337.6,242.2 339.1,242.7 341.0,241.4 343.1,240.0 344.7,240.0 346.3,240.0 348.1,240.3 346.0,241.5 344.8,242.5 343.4,242.8 342.1,243.2 340.1,244.2 339.7,245.4 340.3,247.0 341.4,248.2 341.7,250.4 339.9,250.2 338.8,249.3 337.7,250.6 337.2,252.7 337.7,254.8 337.6,256.8 336.2,258.2 334.6,259.0 333.7,258.0 330.9,258.9 329.4,260.1 327.3,260.8 325.3,259.8 322.9,260.7 321.9,261.0 320.4,259.7 319.8,257.7 320.7,256.1 320.9,254.1 321.2,252.4 321.3,250.8 318.9,252.2 317.8,252.7 317.4,255.5 317.6,256.9 318.2,258.5 318.4,261.0 317.3,262.1 315.4,262.3 313.8,262.5 312.6,263.0 311.3,264.5 310.3,266.1 308.9,267.6 307.3,268.3 305.7,268.6 305.5,270.5 302.8,271.5 302.0,272.2 300.2,272.2 299.6,271.0 299.0,271.1 299.4,273.7 297.6,273.4 296.2,272.8 293.6,272.8 293.6,273.6 293.9,275.1 296.5,276.4 297.4,277.7 298.9,280.5 298.9,282.1 298.3,284.7 297.3,287.5 294.7,287.2 291.3,286.5 288.5,285.3 285.3,284.1 282.9,284.6 281.7,285.3 282.1,287.3 281.9,289.9 280.7,292.8 279.4,294.0 278.8,295.7 279.9,296.6 279.8,297.9 278.9,300.2 281.0,300.6 282.3,300.7 284.3,303.0 285.6,304.6 286.4,304.3 288.5,303.5 291.6,304.2 293.3,304.5 296.7,302.8 297.5,301.2 299.2,300.4 298.4,298.2 300.1,296.4 301.2,295.5 303.3,294.5 304.8,293.9 306.4,291.9 306.3,290.6 307.8,289.4 309.9,289.3 311.1,289.7 312.3,290.3 314.3,289.4 315.6,288.6 318.2,287.1 320.0,287.9 321.0,289.5 322.0,291.3 322.9,292.4 324.8,293.6 326.9,295.4 329.3,296.3 331.0,297.7 332.6,298.4 333.6,300.9 332.9,303.2 334.4,302.1 334.7,300.8 335.6,298.9 335.6,296.5 337.4,297.1 338.3,298.0 337.3,296.1 334.9,295.0 332.9,293.9 332.4,293.2 330.3,292.6 328.6,290.8 327.5,289.1 325.4,287.8 325.0,286.0 324.9,284.4 326.4,283.5 327.6,283.4 327.5,285.1 328.1,285.8 329.2,284.4 330.1,286.2 331.2,288.0 332.7,288.9 335.5,290.2 337.2,290.8 339.2,291.9 340.2,293.3 340.2,295.2 340.5,296.2 341.7,297.5 343.7,299.3 345.0,300.9 345.2,302.6 346.3,304.5 348.2,305.2 349.1,303.4 349.3,302.1 350.9,300.5 348.8,298.8 348.0,297.5 347.1,296.1 347.5,294.4 349.5,295.0 350.2,293.8 351.3,292.8 353.7,292.2 355.5,292.5 355.0,293.2 354.5,294.1 354.4,296.0 356.6,297.0 355.5,298.3 357.7,299.3 358.6,301.2 360.0,301.6 362.2,301.2 364.9,301.1 365.6,299.3 367.6,299.4 370.2,299.8 372.6,297.6 374.5,296.3 377.0,295.7 376.9,297.6 377.4,299.3 377.8,301.2 377.6,303.7 377.2,305.6 377.0,307.8 376.4,309.8 375.0,310.8 372.5,311.7 371.2,311.2 368.1,312.3 366.9,313.4 364.1,315.0 361.5,314.8 358.7,315.2 355.9,315.5 353.1,314.9 350.6,314.0 347.8,314.0 345.4,315.2 344.0,317.1 344.0,319.3 342.5,321.2 340.0,320.8 335.9,319.8 332.6,317.5 328.6,316.5 325.1,316.4 323.4,315.8 322.5,314.5 320.9,313.3 322.7,311.3 322.0,309.3 321.7,307.6 322.9,306.3 320.8,305.8 320.0,305.6 317.5,306.6 314.8,306.5 312.2,306.1 309.5,306.7 307.0,306.0 304.8,306.0 303.2,306.6 300.2,307.2 297.2,307.8 294.4,308.3 292.1,308.1 290.2,307.5 287.7,307.2 285.9,305.5 284.9,305.0 284.0,306.3 282.7,308.2 280.2,309.3 277.7,310.1 275.8,311.3 274.2,312.8 273.9,315.4 272.2,317.8 269.1,318.7 265.4,318.6 263.6,320.0 260.8,321.3 257.8,323.6 256.2,325.2 253.6,327.5 252.7,329.3 253.9,332.0 253.7,334.1 253.4,337.1 251.9,339.5 249.3,340.7 250.4,343.2 250.1,345.5 252.1,347.7 254.1,350.0 255.9,352.5 257.5,354.4 258.1,356.1 259.5,358.2 262.2,360.3 266.0,363.1 269.9,365.6 272.5,367.2 276.5,367.7 280.6,368.0 284.6,368.9 287.3,370.1 290.0,369.9 294.2,369.7 297.7,369.5 301.0,369.6 303.8,369.9 306.0,370.9 307.9,372.4 310.1,373.6 313.5,373.6 316.2,373.5 318.2,374.3 319.8,375.8 319.0,377.9 318.7,379.2 317.1,380.8 319.0,382.4 322.6,384.2 325.4,385.6 326.8,386.9 328.4,387.8 329.2,389.5 330.5,390.9 330.4,391.7 330.2,392.5 326.9,393.7 326.1,394.4 325.2,395.0 324.9,395.9 326.3,396.3 327.8,396.7 329.1,397.0 330.5,397.3 331.9,397.6 332.2,397.8 332.5,397.9 333.0,398.0 333.6,398.0M359.5,290.3 357.5,289.0 356.0,287.3 356.4,285.3 357.1,282.9 358.4,280.3 358.2,278.7 359.4,275.5 360.6,274.5 362.8,275.1 363.3,276.7 365.3,276.7 365.8,278.5 367.2,278.3 368.7,276.5 369.6,275.6 370.6,274.0 371.9,274.0 372.9,271.2 372.3,268.3 373.4,267.4 372.2,270.6 372.1,272.4 371.6,274.4 373.3,275.1 376.1,275.5 378.5,276.0 382.1,276.7 383.0,278.9 381.5,281.1 379.2,282.5 375.8,283.3 372.2,283.5 369.6,284.0 367.4,284.9 365.6,286.7 363.5,288.5 360.6,289.7 359.5,290.3M390.1,258.9 392.4,257.5 393.7,256.1 395.0,254.8 396.8,257.6 395.1,260.9 394.4,263.4 396.5,263.7 399.7,264.4 401.3,266.0 401.2,267.3 403.0,268.1 403.9,269.6 406.5,270.9 408.5,274.2 407.0,277.0 404.2,278.9 401.1,279.7 399.0,278.3 398.6,275.0 399.2,272.3 397.7,272.9 394.6,271.1 391.7,269.7 390.7,267.9 389.0,266.6 388.6,263.7 389.6,260.5 390.1,258.9M372.5,311.7 373.4,314.2 374.3,316.3 376.0,318.1 378.1,319.7 380.4,322.3 383.2,324.6 385.3,326.0 387.4,327.4 388.8,330.1 389.9,332.8 393.4,334.4 395.3,336.5 397.6,337.4 400.3,338.0 403.6,338.1 406.1,337.9 405.9,339.5 407.1,339.5 409.7,339.5 412.3,337.5 415.9,334.2 419.0,331.6 421.2,329.5 423.4,327.4 424.1,329.4 423.1,332.9 421.4,336.8 420.1,339.4 418.8,342.0 417.4,344.5 415.9,347.0 412.7,351.3 409.7,354.4 406.0,358.6 402.4,362.4 399.9,365.5 398.4,367.4 398.2,368.5 398.1,369.5 398.1,371.0 398.5,371.6 398.8,372.3 399.2,372.9 399.5,373.4 399.5,374.3 399.4,375.0 396.7,377.2 393.8,379.0 390.8,380.7 388.1,382.2 385.4,383.6 383.7,384.9 383.8,385.0 384.0,385.2 383.0,385.8 379.9,387.1 376.8,388.3M372.5,311.7 373.6,314.1 374.7,315.7 376.8,317.3 378.3,317.7 378.7,315.1 379.0,313.2 379.3,315.6 380.5,316.3 382.8,317.7 385.9,320.0 388.9,322.1 392.2,324.0 393.9,326.6 396.9,328.4 400.0,329.9 403.0,331.5 404.0,333.9 405.7,336.0 406.7,337.0 409.8,334.9 411.9,332.9 413.9,330.9 417.4,326.8 419.6,323.8 421.7,321.4 423.7,318.9 426.3,314.6 428.8,311.9 430.5,306.9 431.9,302.9 432.5,299.4 433.2,294.2 430.2,294.3 427.3,295.3 425.3,295.3 424.1,292.8 424.1,294.8 423.1,296.5 422.0,300.3 419.1,302.8 416.8,303.8 416.2,301.7 415.1,301.0 415.0,303.9 412.9,302.4 411.2,301.6 408.4,300.9 406.2,299.0 406.6,296.9 408.4,295.6 410.2,295.1 412.0,295.9 414.1,297.3 417.3,296.3 420.6,295.2 423.1,291.6 425.0,291.4 426.2,292.5 429.3,290.2 431.6,288.2 433.7,286.2 436.5,282.6 438.1,280.9 439.6,279.2 442.1,277.1 443.7,277.4 445.6,277.0 447.3,276.6 448.5,274.0 450.4,273.0 452.3,271.9 453.5,272.9 454.8,275.4 455.9,276.4 456.9,277.5 458.6,278.8 460.2,279.8 461.7,281.0 462.7,281.5 463.7,282.0 465.3,282.7 466.6,281.7 467.1,278.4 467.6,274.9 467.4,271.6 466.9,268.1 465.5,265.8 465.9,261.6 466.0,257.9 466.2,252.2 466.1,247.5 465.9,242.1 465.6,238.9 466.0,235.9 466.3,232.0 466.2,229.1 467.6,229.6 469.4,229.8 471.2,228.5 472.1,229.5 472.9,230.5 473.5,228.8 473.4,223.9 474.6,224.6 475.5,225.3 476.4,225.9 477.1,227.7 477.7,229.4 478.2,231.0 478.6,232.5 479.2,231.0 479.5,231.4 479.8,231.8 479.9,231.2 480.0,230.5M479.7,226.7 479.6,225.6 479.4,224.6 479.1,225.3 478.8,227.8 478.4,228.1 478.0,228.4 477.5,226.6 477.0,224.8 475.9,220.8 476.4,219.0 476.8,216.6 477.0,214.2 477.6,214.9 476.4,208.7 475.9,206.0 475.4,203.3 474.4,200.3 473.7,199.4 472.9,198.5 472.3,199.8 471.8,200.7 471.2,201.5 470.1,199.3 469.1,197.1 467.6,193.0 466.9,189.0 467.6,188.4 465.9,184.5 464.8,181.5 463.7,178.6 462.6,175.6 461.4,172.6 459.9,169.8 458.3,167.0 456.7,164.7 455.0,162.6 452.1,158.9 450.4,157.2 448.7,155.5 447.6,155.2 446.9,156.2 445.2,156.2 443.8,157.2 441.5,154.7 439.9,152.6 438.3,150.5 438.8,153.0 440.6,156.5 439.6,156.8 438.6,158.1 435.8,154.5 433.3,151.5 434.1,150.4 436.1,151.8 433.8,149.3 432.2,146.3 433.7,145.4 433.9,143.2 436.1,143.8 438.1,144.5 436.5,141.9 434.4,139.3 432.2,138.3 430.9,139.2 429.7,140.6 426.7,138.1 423.6,136.2 421.1,134.5 419.0,132.2 418.2,130.7 415.1,128.2 411.0,126.1 406.2,124.2 403.7,123.2 401.2,122.1 398.1,122.4 394.3,122.3 392.5,123.3 393.2,124.5 393.5,126.5 395.4,128.2 395.0,130.4 392.5,129.3 389.9,128.3 386.7,127.4 383.6,126.7 380.6,125.6 379.2,124.6 377.7,123.5 376.8,122.6 375.8,121.7 374.8,120.9 373.3,119.9 371.8,119.0 370.5,118.0 369.2,117.0 367.7,116.5 366.2,116.0 364.1,116.2 361.9,116.4 360.6,116.0 359.3,115.6 357.9,115.2 356.4,114.7 354.9,114.3 353.3,113.9 356.2,112.5 359.4,111.9 361.3,111.8 363.3,111.8 365.3,111.8 367.8,111.4 370.4,111.2 371.9,110.4 373.3,109.6 374.2,108.5 375.0,107.4 375.6,106.3 371.2,106.0 367.9,105.8 365.7,105.8 363.4,105.9 360.3,106.3 359.4,108.0 357.8,109.7 356.0,109.8 354.2,109.9 352.5,109.5 350.9,109.2 349.2,108.9 348.2,108.1 347.1,107.3 345.0,107.5 343.1,107.8 341.2,108.0 339.5,108.3 337.7,108.6 336.1,108.5 334.4,108.5 334.0,109.9 335.2,112.1 333.9,112.3 332.6,112.5 331.2,112.5 329.8,112.4 328.5,112.5 327.4,111.8 326.3,111.1 325.2,110.7 324.0,110.3 322.1,112.0 320.1,112.9M318.2,112.2 316.9,112.7 315.5,113.2 314.2,113.7 313.7,114.9 315.3,116.0 316.8,117.0 315.8,117.5 314.9,118.0 313.9,118.5 312.7,121.1 311.8,121.6 311.0,122.2 310.1,122.8 309.3,123.3 308.5,123.9 307.4,123.7 306.2,123.6 305.1,123.4 303.9,123.3 302.9,123.5 301.8,123.8 300.8,124.1 299.8,124.3 298.9,124.5 297.9,124.7 297.0,124.9 296.0,125.1 294.9,125.3 293.7,125.6 292.5,125.9 291.3,126.1 290.0,126.3 288.8,126.6 288.2,127.3 287.6,128.1 287.1,128.8 286.4,129.6 285.6,130.3 284.9,131.1 284.1,131.6 283.3,132.1 282.5,132.6 281.7,133.1 280.6,133.4 279.5,133.8 278.3,134.2 278.0,135.0 277.6,135.8 277.3,136.7 276.1,137.1 274.9,137.5 273.8,137.9 272.6,138.4 271.4,138.9 270.7,139.7 270.0,140.4 269.4,141.1 268.7,141.9 268.1,142.7 268.0,143.6 267.9,144.5 267.8,145.4 267.8,146.3 267.1,147.1 266.5,147.9 265.9,148.7 265.3,149.5 264.7,150.3 264.1,151.2 263.4,152.0 262.6,152.8 261.9,153.7 264.0,155.2 267.2,155.4 269.7,155.7 272.2,156.1 270.9,156.8 269.5,157.5 268.2,158.3 265.0,159.1 262.6,160.5 261.2,161.7 259.7,162.9 260.9,163.7 262.1,164.5 265.4,165.0 264.9,166.1 264.5,167.2 260.6,167.9 258.7,167.2 256.8,166.6 256.9,165.6 257.0,164.6 257.1,163.6 254.6,163.4 252.2,163.2 251.5,162.2 250.9,161.2 250.3,160.2 248.7,159.2 247.2,158.2 245.1,157.2 243.0,156.2 239.9,156.7 235.4,159.2 234.5,160.8 233.6,162.4 232.7,164.0 231.9,165.6 231.1,167.1 230.3,168.6 229.5,170.2 228.6,172.3 227.7,174.4 225.4,175.7 223.2,177.0 220.9,180.1 223.1,181.1 225.4,179.7 227.6,178.4 229.2,179.3 230.7,180.2 232.4,181.0 234.7,179.5 237.0,178.0 240.6,176.9 243.4,175.8 246.2,174.7 246.4,175.8 246.6,176.9 246.9,177.9 246.4,179.3 245.9,180.7 245.4,182.1 244.7,183.5 244.1,185.1 241.8,186.4 239.5,187.7 239.2,189.3 238.9,190.8 240.4,191.5 241.9,192.1 244.1,192.3 240.6,196.4 238.6,198.6 236.8,201.0 235.6,203.3 234.5,205.7 234.2,208.0 233.8,210.3 233.6,212.6 230.7,215.4 228.5,213.7 226.4,212.9 224.3,212.1 223.7,210.6 223.1,209.1 222.6,207.6 221.9,205.9 221.2,204.2 220.5,202.5 218.5,201.5 216.5,200.5 212.8,199.3 215.4,201.1 216.9,202.4 218.5,203.8 218.7,205.6 219.1,207.5 216.7,207.8 215.1,208.8 213.7,211.9 214.1,214.6 214.7,217.3 217.3,216.5 214.2,217.9 212.8,216.3 211.5,214.5 209.8,213.6 208.1,212.6 210.1,210.8 212.1,212.2 211.3,209.3 209.9,208.5 208.7,207.3 207.6,206.1 206.3,204.3 204.3,204.8 203.4,206.6 202.2,205.6 201.2,203.2 199.7,201.2 197.7,201.9 196.5,201.5 194.9,201.7 193.1,201.5 190.2,204.6 188.9,202.4 187.7,200.1 186.2,198.6 184.9,197.0 182.8,197.8 181.3,199.7 180.0,201.7 178.7,203.5 177.4,205.3 175.8,206.0 176.0,204.1 177.5,200.9 179.5,197.5 182.1,193.0 182.9,189.4 183.3,187.2 183.7,185.0 184.0,182.9 184.3,180.8 182.6,182.4 183.3,179.9 184.1,177.4 184.8,175.1 185.6,172.9 185.7,170.7 185.5,168.9 185.5,167.2 184.3,167.8 183.2,168.4 182.2,168.7 181.3,169.1 180.3,169.9 179.3,170.7 177.3,173.9 175.4,177.2 173.7,181.5 172.9,184.3 172.3,187.1 172.4,189.1 173.7,188.8 173.3,191.0 173.1,193.1 172.8,195.3 171.5,195.8 170.3,196.4 169.4,197.1 168.5,197.8 168.0,201.0 167.5,204.2 167.1,206.7 166.8,209.3 165.6,212.8 165.0,213.5 164.4,214.3 163.7,216.0 162.9,221.6 162.7,224.9 162.6,228.3 162.5,231.0 162.5,233.8 163.2,236.1 163.8,236.0 164.4,238.2 164.9,240.5 165.5,242.7 165.3,245.0 166.2,247.7 166.4,250.8 166.7,254.0 167.3,256.3 168.0,258.6 168.6,261.2 169.2,263.8 170.1,265.8 171.1,267.7 171.4,271.7 172.1,275.9 173.3,282.4 174.2,285.1 175.3,287.8 176.3,290.5 177.5,293.0 178.7,295.4 180.3,300.7 181.1,304.1 182.1,307.4 182.0,309.3 184.2,313.8 186.4,316.6 188.0,319.4 189.6,322.2 191.2,324.9 192.9,327.0 194.6,329.0 196.4,331.1 198.1,333.1 200.5,336.4 202.9,339.7 204.9,341.9 206.9,344.1 207.8,346.2 208.7,348.2 207.5,348.1 206.4,348.0 205.1,347.4 203.8,346.8 204.0,347.4 204.2,347.9 204.5,348.5 204.5,348.7 204.7,349.0M318.2,112.2 316.9,111.3 315.6,110.5 314.4,110.6 313.2,110.7 312.0,110.8 310.8,110.9 309.6,111.1 309.9,109.4 311.2,108.7 312.6,108.0 314.0,107.4 314.3,105.0 312.6,104.4 310.9,103.8 309.1,103.2 307.5,103.2 305.8,103.2 304.2,103.2 302.5,103.3 301.8,101.5 303.2,100.3 304.7,99.2 306.2,98.0 308.0,97.4 309.7,96.8 311.5,96.2 309.6,96.7 307.6,97.2 306.0,98.1 304.4,99.0 302.8,99.9 301.5,100.8 300.3,101.6 299.1,102.5 297.7,104.6 296.2,105.4 294.7,106.2 293.8,108.8 292.2,108.6 290.5,108.4 289.4,109.2 288.4,110.0 286.9,110.2 285.4,110.4 284.0,110.8 282.6,111.2 281.2,111.7 279.8,112.1 278.2,112.4 276.6,112.7 274.9,113.0 271.1,112.6 268.8,112.6 266.6,112.7 264.6,113.1 262.6,113.6 260.7,114.1 258.3,114.5 255.9,115.0 252.5,115.0 248.0,116.1 245.0,116.8 242.3,116.8 240.5,116.7 239.3,116.2 238.2,115.8 237.0,115.3 235.5,115.3 233.9,115.3 233.3,115.0 230.8,115.8 228.3,116.8 226.0,117.8 223.6,119.1 220.3,120.8 218.5,122.4 216.7,124.0 213.3,126.5 210.1,128.4 207.7,130.4 205.2,132.5 203.7,133.6 200.5,136.6 197.6,139.1 195.3,141.8 193.0,144.5 194.6,143.1 197.7,140.0 199.7,138.1 201.7,136.3 204.0,134.1 206.3,132.1 208.6,131.0 205.5,134.3 203.7,135.6 201.9,137.0 199.5,139.4 197.1,141.9 194.3,144.8 191.5,148.1 188.8,151.6 186.0,155.2 185.0,156.2 184.1,157.1 182.0,160.7 180.0,164.3 178.2,167.7 176.6,171.1 175.3,174.0 174.1,177.0 172.9,179.9 172.3,181.9 171.8,183.9 170.7,186.9 169.7,189.9 168.5,193.7 167.4,197.5 166.7,200.7 166.0,204.0 165.1,207.3 164.3,210.7 163.4,214.3 163.0,217.3 162.6,220.4 162.2,224.1 162.0,227.8 162.5,228.4 162.1,233.9 161.7,236.3 161.4,238.6 161.1,238.9 160.9,239.1 160.7,239.4 160.6,237.5M255.5,215.8 257.7,215.5 260.1,214.0 262.3,212.4 265.0,211.3 267.5,209.9 269.3,209.8 271.2,209.7 272.7,210.4 274.2,210.3 275.7,210.1 277.4,209.7 279.1,209.3 280.8,209.2 282.4,209.1 283.3,209.5 284.2,209.9 285.2,210.3 286.7,209.7 288.3,209.0 289.8,208.8 291.3,208.5 293.7,205.7 294.9,203.2 297.0,201.2 299.2,199.2 300.7,196.9 302.5,194.7 304.0,192.4 305.2,190.0 306.7,187.7 307.9,186.8 309.0,185.8 309.8,185.2 310.6,184.5 311.4,183.9 311.1,183.4 310.8,182.9 310.5,182.5 310.3,182.0 310.1,181.6 310.0,181.1 309.8,180.7 309.7,180.2 309.5,179.9 309.3,179.5 309.1,179.2 308.9,178.8 308.8,178.5 308.6,178.1 308.5,177.8 308.4,177.4 308.2,177.1 308.1,176.8 308.0,176.4 307.9,176.1 307.9,175.7 307.8,175.4 307.5,175.2 307.3,175.1 307.0,174.9 306.7,174.8 306.4,174.6 306.2,174.4 305.9,174.3 305.6,174.1 305.4,173.9 305.1,173.7 304.6,173.7 304.0,173.7 303.5,173.7 302.9,173.7 302.3,173.6 302.0,173.4 301.7,173.2 301.4,173.0 301.1,172.8 300.7,172.6 300.2,172.4 299.7,172.3 299.2,172.1 298.7,171.9 298.2,171.7 297.6,171.6 297.0,171.4 296.4,171.2 295.8,171.0 295.0,170.8 294.2,170.6 293.4,170.4 292.6,170.2 291.8,169.9 291.0,169.7 290.3,169.4 287.5,169.2 285.7,170.5 284.8,171.4 283.8,172.4 283.7,173.2 283.5,173.9 283.4,174.7 283.2,175.4 283.3,176.1 283.4,176.9 283.4,177.6 281.8,179.5 279.9,181.9 277.8,184.0 275.5,185.5 273.4,187.6 272.9,189.5 271.6,191.3 270.3,193.3 268.7,193.3 267.1,193.2 264.4,194.1 262.2,195.9 260.7,198.6 259.1,200.3 257.3,203.5 255.8,206.2 254.7,209.4 254.7,211.1 254.8,212.7 255.1,214.3 255.5,215.8M284.6,226.4 283.4,225.2 282.3,223.9 283.4,223.6 282.9,222.2 282.4,220.7 282.9,218.8 284.7,217.9 286.2,217.5 287.1,218.5 288.2,219.5 289.1,220.0 290.1,220.4 292.0,220.4 293.1,222.4 293.6,224.9 291.7,226.9 290.3,226.9 289.0,227.0 287.6,227.1 286.3,227.2 284.6,226.4M292.6,268.6 294.7,268.3 296.7,267.9 298.5,268.1 300.2,268.3 302.0,268.5 303.7,268.6 305.4,268.0 304.3,266.8 306.0,265.6 306.5,263.5 304.2,262.9 304.1,260.9 303.3,258.3 302.2,255.3 300.6,253.5 301.3,252.3 302.9,249.2 300.5,248.7 301.7,246.4 300.3,246.1 298.9,245.8 297.0,248.5 296.4,251.2 296.2,254.0 296.8,255.8 298.6,257.1 299.2,259.5 298.9,260.8 296.3,260.2 296.2,261.6 295.1,263.6 294.4,264.3 296.7,265.1 295.8,266.0 294.1,267.6 292.6,268.6M286.7,262.7 286.2,260.8 288.3,258.9 287.6,257.3 288.5,255.2 291.8,253.6 293.4,254.1 295.0,254.5 295.6,256.7 294.0,259.1 292.7,262.5 289.4,262.7 286.7,262.7M324.6,198.3 323.7,197.4 322.9,196.6 322.1,194.2 321.2,192.6 320.8,190.2 321.3,190.0 321.8,189.8 322.4,189.6 323.0,190.0 323.7,190.3 324.2,188.9 324.6,188.3 325.0,187.7 325.5,187.8 325.9,187.8 326.4,187.9 326.9,187.9 327.4,188.1 328.0,188.2 328.5,188.3 328.3,189.4 328.1,190.4 327.7,191.2 327.2,192.0 326.8,192.8 327.9,195.4 327.3,195.7 326.8,196.1 326.2,196.5 325.7,196.8 325.1,197.2 324.6,198.3M359.7,199.9 358.3,199.9 356.8,199.9 355.0,199.1 353.2,198.3 351.9,195.7 350.9,192.9 350.5,191.4 350.1,189.8 350.1,188.8 349.9,187.9 349.8,186.9 349.9,186.2 350.0,185.5 350.0,184.8 350.1,184.1 350.5,183.5 350.9,183.0 351.3,182.4 351.6,183.4 351.8,184.4 352.0,185.4 352.2,186.4 352.4,187.4 352.5,188.4 352.5,189.3 352.6,190.3 352.6,191.2 353.5,193.3 354.3,195.5 355.9,197.7 357.5,198.2 359.1,198.6 360.5,198.8 359.7,199.9M353.6,165.4 352.6,165.8 351.6,166.2 350.5,166.5 349.5,166.8 345.3,166.6 345.2,166.2 345.0,165.8 344.8,165.4 345.5,165.1 346.2,164.8 346.8,164.4 347.5,164.0 348.1,163.6 349.5,163.2 350.8,162.8 353.5,163.4 353.6,163.9 353.6,164.4 353.6,164.9 353.6,165.4M354.9,144.3 352.1,144.7 351.3,144.3 350.4,143.9 349.6,143.6 349.2,143.1 348.9,142.6 348.5,142.1 348.1,141.6 349.1,140.1 350.0,140.4 351.0,140.7 351.9,141.0 353.1,141.1 354.3,141.2 354.5,142.0 354.7,142.8 354.8,143.6 354.9,144.3M275.6,166.4 274.9,167.3 274.3,168.3 273.7,169.2 272.9,170.2 272.1,171.3 271.3,172.4 270.6,173.5 269.9,174.7 269.2,175.8 268.1,177.3 267.0,178.7 264.2,180.8 263.4,182.1 262.5,183.4 261.8,184.8 260.1,187.4 258.7,186.9 257.4,186.3 255.3,186.7 253.5,187.2 251.0,189.1 250.4,188.0 249.9,186.9 248.3,188.2 247.2,186.9 247.3,185.6 247.4,184.3 247.6,183.0 247.8,181.7 248.0,180.5 248.7,179.1 249.4,177.7 250.6,176.2 251.7,174.8 253.7,173.2 254.2,174.1 254.7,175.0 255.2,175.9 257.2,176.9 259.6,175.6 261.8,173.6 264.0,171.7 264.6,170.7 265.2,169.7 265.9,168.5 266.5,167.3 266.8,166.5 267.1,165.6 267.4,164.8 268.5,163.7 269.5,162.6 271.9,162.1 273.1,161.3 274.3,160.6 274.8,161.3 275.4,162.0 276.1,162.6 275.9,163.4 275.8,164.2 275.7,164.9 275.6,165.7 275.6,166.4M266.9,150.6 267.1,149.8 267.2,148.9 267.4,148.1 267.6,147.2 268.1,146.4 268.6,145.6 269.2,144.9 269.8,144.1 270.4,143.3 271.2,142.6 272.0,141.8 272.8,141.0 273.6,140.3 275.0,139.9 276.3,139.5 277.7,139.2 280.7,139.8 283.2,141.4 282.9,142.1 282.6,142.8 282.3,143.5 282.1,144.2 281.6,144.7 281.1,145.3 280.6,145.9 280.1,146.5 279.6,147.1 279.1,147.7 278.1,148.3 277.0,149.0 273.1,148.8 271.4,149.5 269.7,150.2 266.9,150.6M283.0,136.5 284.4,136.4 285.8,136.4 288.0,138.8 288.4,139.9 288.7,140.9 288.2,141.5 287.6,142.0 287.1,142.6 286.5,143.2 284.6,143.0 282.6,142.8 281.6,141.1 281.7,140.3 281.8,139.4 281.8,138.6 282.2,137.9 282.6,137.2 283.0,136.5M282.1,150.3 282.7,149.8 283.3,149.2 283.9,148.6 284.6,148.1 284.8,147.5 285.0,146.8 285.2,146.2 285.4,145.6 286.4,145.2 287.3,144.8 288.2,144.4 289.5,145.5 289.3,146.1 289.2,146.6 289.0,147.2 288.9,147.8 288.3,148.3 287.6,148.7 287.0,149.2 286.4,149.7 285.6,150.2 284.7,150.8 282.1,150.3M281.1,155.1 281.7,154.5 282.4,154.0 283.0,153.5 285.6,154.0 285.6,154.6 285.6,155.2 285.7,155.8 283.3,156.3 281.1,155.1M278.0,166.5 277.9,165.8 277.9,165.2 277.9,164.5 277.9,163.9 277.9,163.2 278.0,162.5 278.1,161.8 278.3,161.1 278.4,160.4 278.6,159.7 278.8,159.0 279.6,158.4 280.3,157.8 281.1,157.3 281.8,156.7 284.4,157.3 284.2,157.9 284.1,158.4 283.9,159.0 283.8,159.6 283.7,160.1 283.6,160.7 283.3,161.3 283.1,161.8 283.0,162.4 282.8,163.0 282.6,163.6 282.5,164.2 282.3,164.8 281.3,165.5 280.4,166.2 278.0,166.5M272.3,157.6 273.2,156.8 274.1,155.9 277.3,156.6 277.3,157.2 277.3,157.9 277.3,158.6 275.2,159.6 272.6,158.4 272.3,157.6M272.2,153.8 272.9,153.0 273.7,152.2 274.5,151.5 278.5,151.5 278.5,152.2 278.6,153.0 278.6,153.7 277.9,154.2 277.1,154.8 276.4,155.4 273.1,155.1 272.2,153.8M289.0,159.4 289.8,159.0 290.7,158.6 291.5,158.3 292.4,157.9 294.9,158.8 295.5,159.3 296.1,159.9 296.7,160.4 295.9,160.8 295.1,161.1 294.3,161.6 291.0,161.9 289.8,161.4 288.7,160.9 288.8,160.4 288.9,159.9 289.0,159.4M282.3,165.9 282.5,165.3 282.7,164.7 282.9,164.1 283.2,163.6 283.1,162.9 283.1,162.3 283.1,161.7 283.1,161.0 283.1,160.4 285.6,159.9 286.6,160.5 287.5,161.1 288.4,161.6 289.2,162.1 290.0,162.6 292.9,161.9 294.3,161.5 295.7,161.1 297.9,161.4 298.2,161.8 298.5,162.1 298.9,162.5 299.2,162.8 299.6,163.1 299.7,163.5 299.9,163.8 300.0,164.1 300.2,164.4 300.3,164.7 300.5,165.0 300.6,165.3 300.8,165.6 301.0,165.8 301.1,166.1 301.2,166.4 301.3,166.7 301.4,167.0 301.5,167.3 301.5,167.6 301.4,167.9 301.4,168.2 301.4,168.5 301.4,168.9 301.3,169.2 301.3,169.5 301.4,169.8 299.2,170.4 298.2,170.3 297.2,170.2 296.1,170.0 295.4,169.9 294.6,169.6 293.8,169.4 293.1,169.2 292.5,168.9 291.8,168.6 291.2,168.2 290.6,167.9 288.7,167.7 287.7,167.4 286.8,167.0 285.8,166.6 283.9,166.3 282.3,165.9M245.5,168.5 246.6,166.9 247.8,165.3 250.9,163.8 253.2,164.6 255.1,165.3 253.9,166.7 252.8,168.1 251.6,169.5 249.1,171.3 247.9,170.4 246.7,169.5 245.5,168.5M224.6,227.0 222.7,228.0 221.8,226.0 221.0,224.0 220.5,221.7 220.0,219.4 219.6,217.0 221.5,216.1 224.2,216.1 227.0,215.1 230.1,216.4 226.9,218.9 227.1,221.9 226.1,225.1 224.6,227.0M172.6,199.7 173.3,202.9 173.4,205.0 173.5,207.0 173.1,210.2 172.8,213.5 172.4,216.4 172.0,219.3 171.6,222.8 171.2,226.3 170.6,223.7 170.4,221.4 170.2,219.2 171.3,215.4 171.5,212.8 171.7,210.2 172.3,206.6 172.3,204.3 172.4,202.0 172.6,199.7M171.2,230.0 171.8,233.2 172.4,236.3 172.0,241.8 171.3,239.6 170.7,237.5 170.3,235.1 170.0,232.7 169.2,228.6 169.7,228.4 171.2,230.0M318.7,295.5 320.0,297.4 319.5,300.7 317.1,301.5 317.0,298.9 316.6,296.3 318.7,295.5M332.6,302.5 332.2,305.9 331.8,306.6 328.7,305.7 325.7,304.7 326.3,303.4 328.7,303.0 332.6,302.5M369.9,302.2 373.4,300.4 374.4,299.2 373.6,301.4 371.8,303.1 370.5,303.3 369.9,302.2M434.0,136.6 431.7,134.6 429.5,132.7 427.8,130.6 426.0,128.5 422.6,126.2 421.2,125.3 420.6,123.8 417.7,122.0 414.9,121.1 413.5,121.1 411.7,120.4 410.5,119.2 411.3,118.8 412.8,118.4 415.4,119.7 416.7,119.7 418.6,120.2 420.8,121.6 423.8,124.4 425.5,126.3 428.5,128.6 428.8,130.0 430.5,132.0 432.1,134.0 434.0,136.6M412.1,121.2 410.3,120.8 407.9,119.6 405.8,119.2 403.8,119.2 403.1,116.9 401.4,114.5 401.5,113.7 403.6,115.1 405.7,116.5 407.9,118.1 410.0,119.8 412.1,121.2M434.2,136.8 436.3,139.3 437.2,139.3 438.4,139.2 437.4,137.3 435.1,136.0 434.2,136.8M402.9,119.3 400.6,119.7 399.0,119.9 397.3,120.2 395.8,120.7 394.3,121.3 392.4,121.5 390.5,121.8 388.9,122.0 390.5,120.8 391.9,120.1 393.3,119.4 394.5,118.5 395.6,117.6 399.1,119.1 400.2,117.5 402.9,119.3M454.8,160.0 456.1,160.8 457.5,162.5 458.9,164.2 458.5,164.9 456.4,162.3 454.8,160.0M468.2,189.7 468.3,188.4 469.6,191.8 470.1,193.6 469.3,193.6 468.2,189.7M468.4,273.6 470.0,272.7 471.2,273.2 470.7,276.6 469.6,278.3 468.9,276.6 468.4,273.6M419.4,361.2 419.7,361.7 419.9,362.1 420.0,362.5 418.7,363.9 417.3,365.3 415.9,366.6 414.5,367.8 413.1,368.9 411.8,369.9M402.4,375.9 401.7,376.2 402.7,375.6 403.6,374.8 404.5,374.0 405.4,373.2 406.3,372.3 409.2,370.3 412.0,368.1 414.5,365.9 417.0,363.6 419.4,361.2M419.2,174.1 419.6,173.0 418.2,170.6 416.5,168.4 414.4,166.1 412.0,164.3 409.0,163.5 409.3,164.4 411.5,165.5 413.6,166.6 416.0,169.3 417.5,171.1 418.7,173.2 419.2,174.1M212.8,164.2 214.2,166.1 215.8,168.0 216.0,170.2 215.1,172.8 212.8,175.5 210.7,176.8 211.0,174.2 211.9,171.5 212.0,169.5 212.1,167.5 212.4,165.8 212.8,164.2M209.8,176.3 209.7,173.9 207.4,173.1 204.6,173.5 202.1,175.1 202.4,176.7 205.2,175.8 207.9,176.2 209.4,176.4 209.8,176.3M210.1,177.8 209.5,179.7 209.1,181.6 208.0,182.9 206.5,183.6 203.8,183.2 205.3,180.8 206.6,180.4 208.7,178.4 210.1,177.8M200.9,182.8 201.8,183.1 202.3,185.1 202.8,187.1 203.4,189.7 202.0,188.8 200.8,186.0 200.9,182.8M204.1,187.7 204.9,190.5 205.7,192.9 204.7,193.9 204.2,191.8 204.1,189.8 204.1,187.7M348.9,239.4 347.1,238.3 346.1,236.8 347.3,235.3 348.6,235.1 350.5,236.2 350.8,237.6 350.5,238.6 348.9,239.4M353.8,234.9 352.0,234.1 351.2,232.1 350.9,230.4 352.2,231.1 353.7,232.5 354.6,233.9 353.8,234.9M258.5,132.0 258.5,133.2 258.5,134.4 258.3,135.8 258.2,137.2 257.6,138.5 257.1,139.8 255.7,140.1 256.0,138.7 256.4,137.4 256.6,136.2 256.8,135.1 257.3,134.1 257.9,133.0 258.5,132.0M271.0,130.1 272.5,129.8 274.1,129.5 274.2,130.7 274.4,131.9 273.4,132.6 272.5,133.2 271.6,133.8 270.3,134.4 269.0,135.1 268.1,133.9 268.8,132.8 269.4,131.7 270.2,130.9 271.0,130.1M223.1,155.0 225.5,153.7 228.1,152.0 231.1,151.4 229.7,153.3 227.4,154.2 224.9,155.6 223.1,155.0M405.9,245.5 404.8,248.5 405.0,251.9 406.2,254.2 408.4,253.4 408.3,250.2 408.1,246.9 405.9,245.5M420.1,228.9 419.7,226.2 420.1,223.2 421.5,221.1 423.1,219.2 423.7,220.8 422.7,222.1 421.6,223.4 421.0,226.3 421.7,228.5 420.1,228.9M380.3,369.2 382.8,368.7 385.4,368.1 385.4,369.0 382.8,371.8 379.7,372.7 379.7,371.1 380.3,369.2M375.9,196.1 378.4,198.9 380.7,200.3 383.1,201.7 387.1,204.0 389.7,203.7 390.6,202.6 391.5,201.5 392.4,200.4 393.8,199.8 395.2,199.3 396.6,198.7 398.2,198.2 399.8,197.6 402.6,197.4 405.4,197.1 408.1,201.0M363.8,148.0 367.9,146.7 369.9,147.1 371.9,147.5 373.9,148.0 378.2,147.8 379.7,146.2 381.1,144.7 382.1,143.2 383.1,141.6 385.6,139.7 388.4,141.1 389.4,142.1 390.4,143.2 391.3,144.2 392.3,145.2 392.9,146.4 393.5,147.5 394.0,148.6 394.6,149.7 394.9,150.9 395.2,152.0 395.5,153.2 395.7,154.3 395.9,155.5 397.8,157.0 399.6,158.7 400.9,160.1 402.2,161.7 403.5,163.2 404.7,164.9 409.1,167.0M291.9,142.9 293.1,144.4 292.9,145.0 292.7,145.7 292.5,146.3 292.3,146.9 290.4,146.6 290.4,145.9 290.4,145.2 290.4,144.5 290.9,144.0 291.4,143.5 291.9,142.9M290.9,148.7 292.2,149.9 291.8,150.4 291.4,150.8 291.0,151.3 290.0,150.1 290.3,149.6 290.6,149.2 290.9,148.7M292.5,150.3 293.8,151.1 293.5,151.5 293.3,151.9 292.2,151.2 292.4,150.8 292.5,150.3M289.8,154.0 292.0,154.1 292.0,154.7 292.0,155.3 290.0,155.3 289.9,154.6 289.8,154.0M288.2,156.5 290.3,156.9 289.9,157.4 289.6,158.0 288.1,157.5 288.2,157.0 288.2,156.5M279.8,156.5 281.5,156.1 281.5,156.8 281.6,157.6 279.9,157.8 279.8,157.1 279.8,156.5M273.4,167.1 275.6,166.4 275.4,167.3 275.2,168.1 275.1,169.0 273.5,168.9 273.4,168.0 273.4,167.1M264.9,152.6 267.0,152.4 266.9,153.2 266.9,154.1 264.6,154.8 264.7,153.7 264.9,152.6M246.7,169.4 245.5,168.7 245.8,170.3 246.1,171.8 247.4,170.4 246.7,169.4"/></g>
</g>
<circle cx="320.4" cy="238.8" r="159.8" fill="none" stroke="#9a8c7a" stroke-width="1"/>
<!-- colorbar -->
<polygon points="331.3,424 322.3,432.5 331.3,441" fill="#3c0050" stroke="#000" stroke-width="1.5" stroke-linejoin="miter"/>
<polygon points="530.5,424 539.8,432.5 530.5,441" fill="#4a2a2a" stroke="#000" stroke-width="1.5"/>
<rect x="331.3" y="424" width="199.2" height="17" fill="url(#cb)" stroke="#000" stroke-width="1.3"/>
<g stroke="#999" stroke-width="1">
<path d="M331.3,442v4M351.2,442v2M371.1,442v4M391,442v2M411,442v4M430.9,442v2M450.8,442v4M470.7,442v2M490.6,442v4M510.6,442v2M530.5,442v4"/>
</g>
<g font-size="13.2" text-anchor="middle">
<text x="331" y="462.4">0</text><text x="371" y="462.4">2</text><text x="411" y="462.4">4</text><text x="451" y="462.4">6</text><text x="491" y="462.4">8</text><text x="531" y="462.4">10</text>
</g>
<!-- RIU logo -->
<path d="M567.8,400.8 L567.8,388 L569.3,382.5 L570.3,377.3 L571.3,383 L572.3,388.5 L573,391 L573.8,387 L574.7,381.5 L575.5,376 L576.4,381.5 L577.2,387.5 L577.8,391.5 L577.8,400.8 Z" fill="#737373"/>
<path d="M559.7,400 Q564,398 568,397.5 M577.5,396.5 Q585,399 592,402.5 Q600,404.5 623,396.5" fill="none" stroke="#1e2ad8" stroke-width="2.1"/>
<text x="578.5" y="394.6" font-size="23" font-style="italic" textLength="45" lengthAdjust="spacingAndGlyphs">RIU</text>
<!-- DLR logo -->
<g fill="none" stroke="#000" stroke-width="2.8" stroke-linejoin="miter" stroke-miterlimit="10">
<polygon points="568.9,440.1 577.6,431.35 617.4,431.35 608.7,440.1"/>
<polygon points="604.9,417.6 604.9,431.5 581.4,454.2 581.4,440.3"/>
</g>
<text x="595.6" y="461.5" font-size="12.6" textLength="27.4" lengthAdjust="spacingAndGlyphs">DLR</text>
</svg>
</body></html>
